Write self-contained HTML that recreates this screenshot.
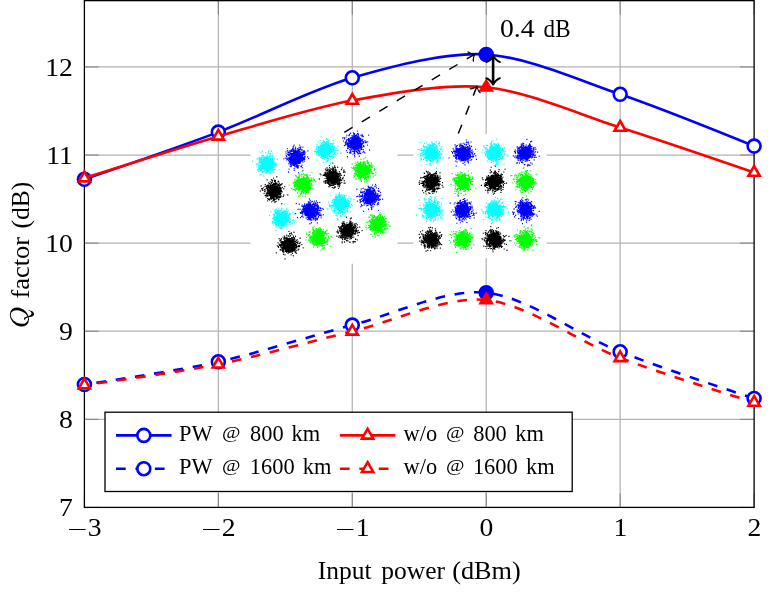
<!DOCTYPE html>
<html><head><meta charset="utf-8"><title>Q factor vs input power</title>
<style>html,body{margin:0;padding:0;background:#fff}svg{display:block}text{font-family:"Liberation Serif",serif;fill:#000}</style></head><body>
<svg width="772" height="611" viewBox="0 0 772 611" style="will-change:transform">
<rect width="772" height="611" fill="#fff"/>
<path d="M218.34 .65V507.4M352.28 .65V507.4M486.22 .65V507.4M620.16 .65V507.4M84.4 419.3H754.1M84.4 331.2H754.1M84.4 243.1H754.1M84.4 155H754.1M84.4 66.95H754.1" stroke="#b4b4b4" stroke-width="1.25" fill="none"/>
<path d="M84.4 507.4v-14.1M84.4 .65v14.1M218.34 507.4v-14.1M218.34 .65v14.1M352.28 507.4v-14.1M352.28 .65v14.1M486.22 507.4v-14.1M486.22 .65v14.1M620.16 507.4v-14.1M620.16 .65v14.1M754.1 507.4v-14.1M754.1 .65v14.1M84.4 507.4h14.1M754.1 507.4h-14.1M84.4 419.3h14.1M754.1 419.3h-14.1M84.4 331.2h14.1M754.1 331.2h-14.1M84.4 243.1h14.1M754.1 243.1h-14.1M84.4 155h14.1M754.1 155h-14.1M84.4 66.95h14.1M754.1 66.95h-14.1" stroke="#707070" stroke-width="0.8" fill="none"/>
<rect x="84.4" y=".65" width="669.7" height="506.75" fill="none" stroke="#000" stroke-width="1.3"/>
<defs>
<g id="p0"><circle r="5.6" stroke="none"/><path d="M6.4 -1.9h1.15m-8 3.6h1.15m-4.5-1.7h1.15m2.1-7.3h1.15m3 9.8h1.15m-7.9-3.2h1.15m3.5-.4h1.15m-4.2-4.9h1.15m2.1 6.5h1.15m-2.3-6.8h1.15m4.6 6.9h1.15m-9.6 7.8h1.15m.2-14.4h1.15m-2.6-3.5h1.15m4.9 7.8h1.15m-8.6 6.2h1.15m-4.9-2.3h1.15m-2.9-4.9h1.15m2.4 8.8h1.15m11.2-7.5h1.15m-5 .7h1.15m-2.3-2.4h1.15m-10.6-4.4h1.15m7.6 16.8h1.15m-1.7-11.5h1.15m5.7 3.2h1.15m-8.7 0h1.15m-2.1-2.3h1.15m-6.5 3.4h1.15m4.4 2.9h1.15m-2.3-12.9h1.15m-0 15h1.15m-2.4-10.8h1.15m-4.5-.7h1.15m2.6-.5h1.15m6.3 3.7h1.15m-6.9 7.2h1.15m4.6-6.9h1.15m-6 4h1.15m-3.3-10.5h1.15m2.3 11.1h1.15m-2.1-7.5h1.15m-3.7 1.3h1.15m-1.6 7.9h1.15m6.5-2.6h1.15m-5.2 0h1.15m-3.5-3.1h1.15m-3.9 .1h1.15m11 3.8h1.15m-11.9-5.6h1.15m-3.4 3.6h1.15m4.1-7.6h1.15m-.8 3.6h1.15m2.8 3.1h1.15m.1-2.6h1.15m-9.5 3.1h1.15m4.4 1.1h1.15m-10.6-1.5h1.15m4-2.6h1.15m-3.9 9.1h1.15m-.1-10.8h1.15m3.1 4h1.15m-4.1 2.7h1.15m1.2-1.7h1.15m.8-.3h1.15m-7.7-2.7h1.15m-.7 2.4h1.15m-3.5-8.5h1.15m3.7 2.1h1.15m-9.6 7h1.15m4 .6h1.15m-.4-6.8h1.15m-4.1 2.6h1.15m2.8-1.3h1.15m-1.1-3h1.15m0-1h1.15m-2 10.3h1.15m4.2 4.2h1.15m-12.1-4h1.15m10.3 1h1.15m-10-2.4h1.15m10.4-7.9h1.15m-6.9 10.8h1.15m-6-2.2h1.15m-2.7-5.8h1.15m-.1 4.2h1.15m1.8 3.2h1.15m-4.6-4.5h1.15m6.7 2.8h1.15m-10.6 .5h1.15m2.3-1.2h1.15m2.1 3.5h1.15m-1.9-12.8h1.15m-7.3 10.7h1.15m3.5 1.7h1.15m1-7.8h1.15m2.2-.3h1.15m-14.1 12h1.15m-.6-6h1.15m10.7-2h1.15m-12.1 3.6h1.15m-.1-9.8h1.15m3.3 8.9h1.15m1.6 .1h1.15m-4.2-4.1h1.15m-4-.6h1.15m6 .1h1.15m-1.7-1.2h1.15m-5.5 2.6h1.15m.5 2.3h1.15m.4 4.7h1.15m-2.8-8.1h1.15m-4.6 1h1.15m6-3.2h1.15m-4.2 6.1h1.15m-1.5-5.2h1.15m3.5 2.6h1.15m-3.6 4.5h1.15m2-6.3h1.15m-8.1 2.6h1.15m.5-9.1h1.15m4.7 8h1.15m-3.4-5h1.15m1.1 2.5h1.15m-6.9-3.4h1.15m-1.4 4.8h1.15m-1.2 2.8h1.15m-.2 2.2h1.15m-3.3-8.1h1.15m.7 6.7h1.15m4.1 .8h1.15m-13.7-1.8h1.15m12.3-1.3h1.15m-9.4 1h1.15m-1.1 1.4h1.15m.9 3.1h1.15m1-8.8h1.15m-.7 6.9h1.15m-6-5.7h1.15m-8.4 5.5h1.15m6-12.5h1.15m-6.1 7.9h1.15m9.4 .5h1.15m-2.4-4.2h1.15m-8.6 8.3h1.15m6.4-3.8h1.15m2.1-3.8h1.15m-8.2 8.2h1.15m8.3-4.3h1.15m-1.9-2.5h1.15m-6.7 1.8h1.15m-9.1 1.8h1.15m9.3-1.7h1.15m-5.3 6.4h1.15m-6.1-12h1.15m1.4 1.2h1.15m7.1 6.3h1.15m-10.3-3.9h1.15m14.3 .1h1.15m-16.2 3.8h1.15m4.7-.4h1.15m-7.6-5.7h1.15m5.1 4.6h1.15m-10.4 5.1h1.15m8.8-5.9h1.15m-5.4 2h1.15m-2.9-6.6h1.15m3-.4h1.15m-.9 0h1.15m-3.1 5.4h1.15m6.6-3.8h1.15m-14.4 1.7h1.15m.1 .3h1.15m5.2 5.6h1.15m4-6.3h1.15m2.9 11.3h1.15m-12.9-17.7h1.15m-.7 9.8h1.15m-10.3 0h1.15m7.5-3.6h1.15m2.3 7.5h1.15m-5.7-3.2h1.15m-1.9-4.3h1.15m1.9 5.5h1.15m-3.8-11.4h1.15m3.6 2.6h1.15m-3.1 14h1.15m-1.7-12.3h1.15m-7.1 9.8h1.15m4.8-2.7h1.15m2.8-2.4h1.15m-6.3-3.7h1.15m-12.7-2.4h1.15m11.4 5.6h1.15m.8 .2h1.15m-2.2 3.8h1.15m-5.4-4.5h1.15m-4.2 5.2h1.15m5.7-2h1.15m5.1 2.5h1.15m-7.8-1.2h1.15m-6.9-1.5h1.15m5.4-8.5h1.15m3.8 3.8h1.15m-3.8 1.2h1.15m.1 7.1h1.15m-8.7-11.8h1.15m1.7 9.9h1.15m-2.1-6h1.15m2.4-9h1.15m-5.9 5.8h1.15m2.8 2.6h1.15m-7 1.6h1.15m-2.6 1.4h1.15m2.1-1.5h1.15m-1.3 5.4h1.15m1.4-1.6h1.15m1.3-5.5h1.15m-.8 4.7h1.15m-2.2-3.1h1.15m-4.2 5h1.15m9.6-6.7h1.15m-8 1.9h1.15m-.1 3.3h1.15m0-13.4h1.15m-8 7.5h1.15m.9 1.1h1.15m-3.4 5.8h1.15m9.4-14.5h1.15m-10.3 13h1.15m.1-2.7h1.15m-6.7-2.5h1.15m7.4 8.4h1.15m-3.7-8h1.15m-1.2 2.5h1.15m.7 1.5h1.15m-6 .3h1.15m-3.4 2.6h1.15m8.6-8.3h1.15m-4.3 .8h1.15m1.6 7.9h1.15m-6.6 .3h1.15m-2-6.8h1.15m-1.7 2.1h1.15m-.1 1.2h1.15m-2.4 2.6h1.15m5.7-5.3h1.15m-11.3 5.1h1.15m9.5-3.7h1.15m-11.3 1.8h1.15m10.6-8.9h1.15m-5.5 6.5h1.15m-6.7 3.4h1.15m-3-.9h1.15m9.7-.5h1.15m-10.3-8.1h1.15m-2.8-.2h1.15m10.8 6.6h1.15m-12.1-4.4h1.15m-1.3 4h1.15m-2 8.4h1.15m1.1-10.2h1.15m3.2 9.2h1.15m3.1-8h1.15m-5.6 2.6h1.15m-0 .5h1.15m-7.3-6.3h1.15m3.5 .3h1.15m3.8 5.1h1.15m-11.1-1.5h1.15m1 .8h1.15m4.9-5.5h1.15m-12.8 7.4h1.15m5.8-.7h1.15m1.5-1.5h1.15m.3-2.9h1.15m-4.2 .3h1.15m-6.1 6h1.15m5.9-10.7h1.15m-8.2 9.3h1.15m8-4h1.15m-6.4-3.1h1.15m10 7.9h1.15m-7.8 .7h1.15m-1-.2h1.15m-6.4 .6h1.15m.6 2.3h1.15m-4.6-7.6h1.15m4.7 7.5h1.15m-3.3-8.3h1.15m-2.3 .9h1.15m7.2 5.8h1.15m-3.7-2.4h1.15m-8.7 3.6h1.15m8-2.5h1.15m-8.1 2.1h1.15m-2.6-1.3h1.15m-2.6-7.2h1.15m4.2 5.4h1.15m4.4-2.6h1.15m-9-3.5h1.15m-9-2.7h1.15m8.5 2.5h1.15m1.7 10.8h1.15m-7.1 1h1.15m1-2.2h1.15m-3-.7h1.15m-4.1-1.4h1.15m.8-3.1h1.15m3.4 1.2h1.15m-4.1 2.3h1.15m2.5-8.7h1.15m-2.2 8.5h1.15m-6.5-1.2h1.15m-3.6 4.4h1.15m3.4-6.3h1.15m4.8-.3h1.15m-3.6-3.7h1.15m-6-1.5h1.15m.3 10.1h1.15m.7-.6h1.15m-6.4-7.4h1.15m1.2 6.1h1.15m2.3-2.5h1.15m-.1-.5h1.15m-3.8 6h1.15m-3.5-4.6h1.15m8-.4h1.15m-4.9-2.9h1.15m4-6.8h1.15m-14 4.9h1.15m10.3 5.9h1.15m-9-6.8h1.15m1.5 5.8h1.15m-5.6-6.7h1.15m-2.8 7.1h1.15m4.7-.6h1.15m-3.1-7.6h1.15m-.3 3h1.15m-1.2 6.2h1.15m-4.1-6.1h1.15m5.8 5.7h1.15m-7.9-14h1.15m1.3 15.1h1.15m3.7-5.4h1.15m-8.5 1h1.15m5-3.1h1.15m-5.1 1.1h1.15m.4-2.7h1.15m-.7 4.4h1.15m-3.6 4.3h1.15m4.5-9.2h1.15m-1.7 9.3h1.15m-6.5 3.5h1.15m.8-.4h1.15m-4.4-9h1.15m6.4 12.6h1.15m-3.6-5.3h1.15m-5.7-9.2h1.15m-.2 11.7h1.15m-7.9-8.3h1.15m-1.4 2.5h1.15m10.5-5.6h1.15m-6.5 10.7h1.15m.2-10.6h1.15m-6.3-3.3h1.15m7.5 5.3h1.15m0 6.7h1.15m-8.2-5.8h1.15m4.8 2.8h1.15m-3.3-7.4h1.15m1.5 3.2h1.15m-14.3 1h1.15m10 11.3h1.15m-4.4-14.2h1.15m9.2 6.2h1.15m-11.1-5.2h1.15m-4.2 10.6h1.15m1.9-8.3h1.15m-2.1 8.7h1.15m-1.5-3.9h1.15m2.4-1.6h1.15m-5.9 1.7h1.15m9.2-2.9h1.15m-11.7-5.2h1.15m3.5 4.3h1.15m-2.4 1.1h1.15m-6.8 3.2h1.15m5.9-3.5h1.15m-1.2 4.1h1.15m-1.9-7.3h1.15m3.5 1.7h1.15m-9-4.7h1.15m1.9 2.2h1.15m-3.3 6.2h1.15m1.1 2.3h1.15m-0-5.9h1.15m-3.8-.4h1.15m2.9 2.2h1.15m-5.5 3.4h1.15m.9-5.4h1.15m-7.8 3.7h1.15m6.1-1.6h1.15m-3.9-3.7h1.15m-.3 4.5h1.15m-.8-1.6h1.15m-2.5 2h1.15m1.7-4.5h1.15m1.1 6.4h1.15m-.9-3.8h1.15m-5.4-4.3h1.15m2.8-4.1h1.15m-5.9 7.5h1.15m4 1.4h1.15m-8.7-5.9h1.15m-.2 6.3h1.15m2.2-1.2h1.15m-4.3-.1h1.15m5.9-3.7h1.15m-5.2 11.3h1.15m1-8.6h1.15m-.7-1.2h1.15m-3.8 9.5h1.15m6.6-13.5h1.15m-6.1 15.2h1.15m-6.3-7h1.15m7.4-3.1h1.15m-5.5 1.8h1.15m-11.1 1.6h1.15m6.1 2.5h1.15m8.3-1.1h1.15m-11.3-.9h1.15m1.2 2.3h1.15m-8-9h1.15m-3.7 7.3h1.15m7.3-5.2h1.15m-4.1 .3h1.15m-2 1.1h1.15m.7 7.1h1.15m2.2-9.2h1.15m-4.9 8.4h1.15m3.2-3.8h1.15m-.1 5.4h1.15m-9.2-9.7h1.15m-3.3 5.2h1.15m4.5-4.9h1.15m-2.7 5.7h1.15m1.4-5.1h1.15m4.6-2.1h1.15m-11.6 15.1h1.15m2.6-13.1h1.15m-2.6 1.7h1.15m5.1 3.7h1.15m-2.2-4.3h1.15m-9.6 2.4h1.15m11.4 3.2h1.15m-8.2-1.1h1.15m-2-3.5h1.15m-4.7-1.1h1.15m4.6 .6h1.15m1.4 8.5h1.15m1.2-9.1h1.15m-9.7-1.4h1.15m-2.2 2.8h1.15m4.7 .7h1.15m-2.1-.1h1.15m-2.5-3.8h1.15m6.5 7.4h1.15m-12-8.1h1.15m.1 3.9h1.15m6.6 4.1h1.15m-2 .3h1.15m-1-1.4h1.15m-3.8-3.6h1.15m-10.3-0h1.15m13.6-1.7h1.15m-11.3 6.4h1.15m1.8-6.2h1.15m5 4.6h1.15m-4.5-4.9h1.15m-2.2 3.9h1.15m-0 3.2h1.15m.3-4.1h1.15m-3-5.5h1.15m-1.3 7.6h1.15m-5.4-6h1.15m.2-1.8h1.15m.5 6.2h1.15m-6.5-1h1.15m7.2 4.2h1.15m-1.4-5h1.15m-6.7-1h1.15m2.7 11.4h1.15m2.2-3.2h1.15m-1.4-13.3h1.15m-7.6 4.9h1.15m4.9 8.8h1.15m-9.1-6.8h1.15m3.9-2.2h1.15m-6-.8h1.15m5.1-1h1.15m-.1 4.2h1.15m-2.8 6h1.15m-7-9.8h1.15m3.4-.9h1.15m-6 3.8h1.15m2.6-4.7h1.15m-3.4 7.6h1.15m6-10.5h1.15m-1.3 11.8h1.15m-11.1-9.8h1.15m5.1 4.4h1.15m-2.3 5.3h1.15m-3.3-2.9h1.15m2.4 3h1.15m4.2 3.3h1.15m-7.5-8h1.15m7.7 3.6h1.15m-9.2-7.1h1.15m.3 1.3h1.15m-6.3-2.3h1.15m-1.4 5.8h1.15m-5.2-4h1.15m4.8-1.5h1.15m-6 1.8h1.15m-1.8 5.9h1.15m.5 .7h1.15m6.8-8.1h1.15m-4.8 2.9h1.15m-6 .6h1.15m2.5 4.3h1.15m4.1-7.4h1.15m-7.1 6.7h1.15m5.4-12.3h1.15m-.7 9.4h1.15m-.1-1.1h1.15m-10.9 2h1.15m7.1-.1h1.15m-15.7 2.7h1.15m1.9-6.9h1.15m.7-3.5h1.15m-1.5 3.5h1.15m1.5 3.9h1.15m-0-5.9h1.15m-.5 10.1h1.15m3.5-3.4h1.15m-2.5 3.1h1.15m1.9 3.3h1.15m-8.1-8.1h1.15m6.3 7.6h1.15m-.9-16.2h1.15m-8.4-3.8h1.15m2.8 13.7h1.15m-4-.8h1.15m4-.6h1.15m-2.2 3.5h1.15m-4-.4h1.15m-2.2-6.4h1.15m1.4 7.5h1.15m-4.7 0h1.15m3.2-8.3h1.15m-5.5 3.5h1.15m-4.3 3.1h1.15m-.9-3.1h1.15m3.3 3.3h1.15m-.8 7.8h1.15m-4.6-8.3h1.15m-4 1h1.15m8.6 3h1.15m-8.6-6.2h1.15m6.8 .8h1.15m-2.4-3.6h1.15m.6 8.3h1.15m-5-7.6h1.15m-3.7 3.9h1.15m.6-1h1.15m-3.2 1.2h1.15m5.6-9.1h1.15m-12.7 1.9h1.15m1.7-.8h1.15m4 7.6h1.15m-4.5-3.2h1.15m.6 3.5h1.15m-.5-3.7h1.15m.2-3.1h1.15m1.4-6.7h1.15m-8.8 7.8h1.15m4.6-1.2h1.15m3.1-.2h1.15m-.3 8.3h1.15m-9.4-.1h1.15m7.8 1.9h1.15m-19.5 1.3h1.15m9-11.7h1.15m1.1 1.7h1.15m-3.6 6h1.15m-4.6 1.7h1.15m-2.7-1.9h1.15m.9-1.6h1.15m9.1 1.3h1.15m-13.7-1h1.15m.2 .6h1.15m2.7 .3h1.15m-1.5-2.7h1.15m.4 6.7h1.15m-5.6-4.6h1.15m1.7 5.4h1.15m3.1-8.2h1.15m-5.4-3.2h1.15m-5.4 6.3h1.15m5.4 3.9h1.15m-5-9.6h1.15m1.8 4.9h1.15m-1.1 1.4h1.15m.1 2h1.15m-.6-4.6h1.15m-.5-.2h1.15m-5 9.8h1.15m0-12.5h1.15m3.6 9h1.15m-2.6-3.4h1.15m-4.5-1.8h1.15m-5.5 7.3h1.15m.2-8.3h1.15m-1.4 9.7h1.15m4.3-9.2h1.15m-5 3.6h1.15m2.7-8.8h1.15m-1 5.8h1.15m-7.8-.7h1.15m5 8.9h1.15m-3.8-5h1.15m-5.2-.3h1.15m5.7-8.2h1.15m-6.7 9.5h1.15m-6.3-4.9h1.15m8.6-5.4h1.15m-5.3 7.2h1.15m4.2-5.5h1.15m-.2 6.6h1.15" stroke-width="1.15" fill="none"/></g>
<g id="p1"><circle r="5.6" stroke="none"/><path d="M4.4 4.8h1.15m-4.7-2.8h1.15m-9.8-7.6h1.15m1.9 4.2h1.15m6.9-6h1.15m-6.4 1.9h1.15m-6.2 11.6h1.15m5.7 .7h1.15m3.3-10.6h1.15m-13.7 12.4h1.15m4.8-13.3h1.15m3.4 5.3h1.15m-6.8-2h1.15m2.3 1.7h1.15m1.4-1.8h1.15m-5.7 4h1.15m1.5 2h1.15m-3.5-4.9h1.15m-4.9 6.6h1.15m-2.1-5.4h1.15m.9 .6h1.15m5.7-8.2h1.15m-5.2-.5h1.15m5.6 5.5h1.15m-13.5-1.1h1.15m10.8 9.1h1.15m-1.3-9.5h1.15m-7.1 10.1h1.15m-3.5-8.2h1.15m-2.1-3.4h1.15m7.8 7.4h1.15m-4.3-.2h1.15m1.3 3.9h1.15m-5.5-7.7h1.15m-5.3 5.9h1.15m.9-10.7h1.15m-.1 6.3h1.15m3.4 4.1h1.15m-7.6-7.5h1.15m.5-1.7h1.15m-.2 6.9h1.15m-.5-8.6h1.15m-6.3 12h1.15m-.4-2.2h1.15m5.6-4.4h1.15m-7.9 2.2h1.15m-.7-1.6h1.15m3-2.3h1.15m-2.5 1.7h1.15m-5.4 .5h1.15m1.4-6.8h1.15m.1 6.4h1.15m-2.3-7.4h1.15m4.6 11.4h1.15m-1.7-1.5h1.15m-9-.8h1.15m.2 8.6h1.15m.5-6.3h1.15m-5.4-7.7h1.15m3 7.8h1.15m3.4-1.7h1.15m-11.1 3.5h1.15m2.7 2h1.15m10.4-3.3h1.15m-4.8-8.6h1.15m5.5 6.1h1.15m-7.7-4.5h1.15m-5.6-1.3h1.15m-1.9 5h1.15m.9 5.7h1.15m-.2-4.8h1.15m-3 7.3h1.15m-3.7-3.4h1.15m-6.9-8.5h1.15m8.7 2.9h1.15m9.7 11.4h1.15m-20-15.1h1.15m4.6 11.6h1.15m4.1-5.8h1.15m-11.7-4.9h1.15m-6.4-2.9h1.15m11.8 9.7h1.15m-8.4-2.8h1.15m11 .2h1.15m-9.1 1.9h1.15m2.3-2.2h1.15m-5.6-2.1h1.15m1.5-.6h1.15m4 6h1.15m-2.2 4.7h1.15m.9-2.5h1.15m-6.2-6.7h1.15m6.9-2h1.15m-13.3-.8h1.15m2.3 5.4h1.15m2.3-2.7h1.15m-12.7 2.2h1.15m10.1-1.2h1.15m-5.7 2.3h1.15m5.3-2.7h1.15m-13-2h1.15m4.1-5.2h1.15m2.7 4.3h1.15m-2.2 4h1.15m-4.6 6h1.15m-2.1-9.6h1.15m2.3 6.3h1.15m-2.3-7.6h1.15m1.7 6.6h1.15m4.6-3.4h1.15m-8.9-1.4h1.15m-8.2 2.6h1.15m8.6-4.5h1.15m-7.5-.7h1.15m7.2 2.3h1.15m-4.3-1h1.15m-3.3 1h1.15m-11.2 2.9h1.15m10.8-8.9h1.15m-4 6.8h1.15m-4.9 .8h1.15m-4.8 2h1.15m11.8-6.2h1.15m-6.3 11.1h1.15m-.4-8.1h1.15m-5.4 2.9h1.15m2.1 1.9h1.15m-6.9 1.9h1.15m3.5-1.8h1.15m-2.5-8.1h1.15m-.5 1.4h1.15m-.4 6.7h1.15m4.9-1.9h1.15m-7.9-2.7h1.15m3.6 6.6h1.15m-5-5.2h1.15m-2.9 1.4h1.15m5.9-13h1.15m-4 9.8h1.15m-11.9 3.6h1.15m8.2 .2h1.15m-6.5 7.4h1.15m5-10.3h1.15m4.7 4.1h1.15m-4 2.1h1.15m-13.2 2.1h1.15m6-5.7h1.15m4.1-4.2h1.15m-3.7 6.2h1.15m-2.6-1.1h1.15m-7.6-7h1.15m.7 6.4h1.15m19.2-.4h1.15m-17.3-1.4h1.15m3.5 3.3h1.15m-10 1.2h1.15m3.5-.8h1.15m-9.3-9.9h1.15m9.6-1h1.15m-2 8.9h1.15m-2.2 .1h1.15m-.6 .4h1.15m-4-2h1.15m12.7 4.8h1.15m-10.7-3.1h1.15m-6.7-.7h1.15m.8 3h1.15m-3.9-13.7h1.15m.3 12.7h1.15m11.4 1.4h1.15m-15.4-5.2h1.15m-1.1 .1h1.15m-.9-6h1.15m4.4 7.6h1.15m-3.7 .6h1.15m8-.9h1.15m-11.1 3.1h1.15m-6.4-.5h1.15m2.4-6.5h1.15m2.5 10.3h1.15m-4.7-2.9h1.15m3.5-9.8h1.15m1.1 2.4h1.15m-11 .1h1.15m1.9 5.8h1.15m-1.2 3.7h1.15m2.8-9.2h1.15m-5.5 3.9h1.15m-6.1-9.9h1.15m3.6 11.6h1.15m3.3-2.5h1.15m-2.8-9.1h1.15m-1.6 1.6h1.15m3.6 7.4h1.15m-4.9 1.7h1.15m.5-.7h1.15m-1-3.4h1.15m-8.2 3.8h1.15m10.4 2.8h1.15m-8-1.7h1.15m-2.1-.9h1.15m-1.8-1h1.15m9.6 2.6h1.15m-3.2-6.4h1.15m-10.2 3h1.15m4-.7h1.15m.7-1.4h1.15m.3 6.3h1.15m-11.4-1.6h1.15m2.5 1.8h1.15m-2.4-2.9h1.15m3.3-12.7h1.15m-11.2 11.9h1.15m6.2 3.7h1.15m.3-9.5h1.15m-.8 2.2h1.15m-3.4 1h1.15m1.2-3.8h1.15m-7.2-3.3h1.15m12.4 5.1h1.15m-13.7-.7h1.15m-.2 3h1.15m4.1 2.5h1.15m-2.4-3.2h1.15m-2.8 7.6h1.15m-.9-3.8h1.15m-9.5 .8h1.15m8.3 3.2h1.15m-13.6-5.2h1.15m9.7 .2h1.15m-3.2 .5h1.15m4.3-.7h1.15m-5.3-1.1h1.15m-1.5 1.1h1.15m-2.5-8.4h1.15m7.4 .9h1.15m-7.3 1.9h1.15m-1.8 1.4h1.15m-.2 .5h1.15m-6.3 4.8h1.15m9.7 .1h1.15m-6.2-5.8h1.15m-2 6.2h1.15m-3.5 1.9h1.15m1.4-2.3h1.15m-3-3.5h1.15m1.8 3.6h1.15m-.7-5.8h1.15m-5.6 4.1h1.15m-5.8 4.4h1.15m7.8-4.1h1.15m-5.4 3.2h1.15m.7 4.5h1.15m1.6-14.1h1.15m.2 4h1.15m-6.3 1.2h1.15m.5 2h1.15m2.5 .9h1.15m-7.3-7.5h1.15m-1.5 7.1h1.15m5.8 5.9h1.15m-10.3-7.1h1.15m3.4-2h1.15m.4 .6h1.15m-2.8-1.6h1.15m1.6 7h1.15m4-6.5h1.15m-12.3 1.1h1.15m-.3 5.3h1.15m-1.1-3.9h1.15m-3.3-1.8h1.15m5.2 7.8h1.15m-4.8-4.8h1.15m-6.9-6.6h1.15m4.1 3h1.15m4 4.7h1.15m-9.6-.5h1.15m.9 5.5h1.15m4.8-7h1.15m-3.2-.8h1.15m-.4-2.7h1.15m1.9 4h1.15m-1.1-1.4h1.15m-1.5-2.9h1.15m10.9 .2h1.15m-17.8 6.9h1.15m5.8-7.3h1.15m-13.2-2.5h1.15m1.6 2.6h1.15m2.3 7.5h1.15m4-6.8h1.15m-3.4 6.2h1.15m2.5-4.3h1.15m-10.1 3.7h1.15m8.2-5.3h1.15m.7 9.4h1.15m-10.3-13.7h1.15m-2.6 5.1h1.15m3.6-5.5h1.15m6.7 16.6h1.15m-14.3-17.4h1.15m1.2 9.5h1.15m5.1 1.2h1.15m-7.5-11.2h1.15m1.8 11.7h1.15m-4.6-2.4h1.15m1-2.1h1.15m-6.8 2.4h1.15m-2.3 4.4h1.15m1-3.8h1.15m-.4-.4h1.15m1 .6h1.15m-3.6-9h1.15m1 5.3h1.15m-6.2-1.4h1.15m-1.9 3.4h1.15m4.3-.4h1.15m11.2 .5h1.15m-10.4 2h1.15m-3.3-5.1h1.15m3.1 6.8h1.15m-16.9-5h1.15m9.5-1.7h1.15m5.4 .2h1.15m-2.7-.1h1.15m-6.4 5.3h1.15m-2.6-3.7h1.15m-2.6-3h1.15m6.4 6.1h1.15m-8.9-7.3h1.15m14.2 2.2h1.15m-15.4 4.8h1.15m-.7-3.6h1.15m5.8 5.6h1.15m-5.7 1.4h1.15m-1-6.5h1.15m-.5-.3h1.15m1 2.4h1.15m-6.5-.4h1.15m-.2-3.1h1.15m.5 6.6h1.15m.6 1h1.15m4.2-5.4h1.15m-10.2-3.1h1.15m2.5 6.9h1.15m4.3-9.1h1.15m-3.9 9.9h1.15m5.2-3.6h1.15m-11.4-7.1h1.15m-4.3 1.7h1.15m-2.1 .9h1.15m-3.3 3.3h1.15m6.8 3.6h1.15m-3.1 1.2h1.15m3.7-10.7h1.15m-6.7 1.1h1.15m-4.1 6h1.15m2.4 5.3h1.15m7.8-4.3h1.15m-10.4-2.4h1.15m-.4 3h1.15m-4.1 .1h1.15m.9 1.9h1.15m5.5 2.9h1.15m-7.5-12.8h1.15m-7.5 4.3h1.15m0-5.6h1.15m3.3 2.8h1.15m3.2 12.1h1.15m-5-6.7h1.15m-6.7-.6h1.15m2.5-5.3h1.15m-6 11.2h1.15m-.1-11.6h1.15m5.6 6.2h1.15m-0-.7h1.15m-6.1 2.7h1.15m3.4-9.2h1.15m4.7 4.6h1.15m-3.9-4.6h1.15m-10 3.7h1.15m.9 6.5h1.15m-5-3.5h1.15m1.4 1.5h1.15m3.9-4.4h1.15m7.2 2.1h1.15m-5.8-5.4h1.15m-6.2 5.9h1.15m-0-1.8h1.15m-5.2-11.4h1.15m-.1 9.1h1.15m.2 7.3h1.15m9.1-1.3h1.15m-6.1 .4h1.15m-2.4-.2h1.15m-5.2-3.7h1.15m1.3 8.8h1.15m.7-.8h1.15m-9.7-5.6h1.15m5.9 1.1h1.15m-8.5-9.8h1.15m-4.3 6h1.15m17.4 2.6h1.15m-15.9 .5h1.15m2.6-.7h1.15m-1.7-6.1h1.15m-1.5 8.3h1.15m2.3 2.2h1.15m-6.8-.7h1.15m3.5-3.6h1.15m3.8-1.3h1.15m-5.2 3.2h1.15m.5 .7h1.15m1.5-1.1h1.15m-8.3 8h1.15m.6-8.6h1.15m-4.2-10.6h1.15m-1.2 9.3h1.15m4.3-.1h1.15m-.1 4h1.15m-.3-4.1h1.15m-4.9-.9h1.15m-5.1 6.8h1.15m-2.7-6.2h1.15m4.9-8.6h1.15m1 7.4h1.15m-3.3 .1h1.15m-8.4 2.2h1.15m5.6 3.3h1.15m.4-11.1h1.15m1.5 10.3h1.15m-2.6-1.3h1.15m-7.2 .2h1.15m.2 9.7h1.15m-.6-16.5h1.15m-1.6 10.6h1.15m-2.1-16.2h1.15m7.4 11.5h1.15m-9.4 1.6h1.15m-2.9-7.8h1.15m6.7 2.7h1.15m-2.9 2.2h1.15m.1 .4h1.15m-13.1 2.4h1.15m5.3 .8h1.15m1.3 2.3h1.15m-2.9-14.5h1.15m-1.2 10.7h1.15m-1.2-4.1h1.15m6.4 1.3h1.15m-2.9 1.3h1.15m-11.6-4.5h1.15m3.6 5.1h1.15m-3.2-7.1h1.15m-2 3.7h1.15m-.6-.3h1.15m10.2 3.6h1.15m-12.3-1.2h1.15m8.8 2.7h1.15m-8.1-8.3h1.15m-7.8 4.2h1.15m5.5-5.3h1.15m-6.3 6.6h1.15m-4.8-7h1.15m7.9 9.5h1.15m.3 1.8h1.15m4.1-.4h1.15m-8.8 5.1h1.15m7-4.9h1.15m-11.5-2.3h1.15m-6.5-3h1.15m-2.8-.4h1.15m13.5 1.9h1.15m1.3-.1h1.15m-7.5-1.3h1.15m.7 1.2h1.15m1.6 6.8h1.15m-4.6-11.4h1.15m-.3 10.4h1.15m-.8-4.5h1.15m.1 4.3h1.15m-15.9 .8h1.15m12.9-4.3h1.15m-6.7-1h1.15m3.7-7.1h1.15m-.6 6.4h1.15m1.9 2.6h1.15m-8-2.6h1.15m2.2 .4h1.15m-1.5-3.6h1.15m-8.6 .6h1.15m-1.9-.9h1.15m6.2-3.5h1.15m-7.7 9.8h1.15m1.8-3.1h1.15m-4.1-4.3h1.15m2.7 11.1h1.15m2-13.7h1.15m-1.2 10.8h1.15m-.1-8.9h1.15m-4.3 13.9h1.15m-4.8-7.5h1.15m-.3-6.6h1.15m.1 9.5h1.15m5.5-7.9h1.15m-7.9-0h1.15m-7.8 6.2h1.15m13.9 3.7h1.15m-9.6-.7h1.15m5.4-6.9h1.15m-5.7-.2h1.15m-.2 9.1h1.15m-5.9-12.5h1.15m6.3 5.2h1.15m-12.6-4.4h1.15m3.2 1.7h1.15m3.7 6.6h1.15m-3.2-3.5h1.15m-3.6 3.6h1.15m7.6-5.3h1.15m-9.8 9.7h1.15m5.7-12.3h1.15m-12 2.5h1.15m10.9-1h1.15m-7.2 .2h1.15m2.6 7.8h1.15m-9.1-7h1.15m3.3-1.3h1.15m-5.3 6h1.15m4.5-.5h1.15m4.5-4.5h1.15m-5.2-.1h1.15m-3.8 3h1.15m-1.4-7.6h1.15m5.7 6.9h1.15m-12.1-9.8h1.15m3.5 11.9h1.15m3.1 1.9h1.15m-6.9-2h1.15m-6-2h1.15m9.1-3.2h1.15m-5.6 3h1.15m.1 5.8h1.15m-6.2-.7h1.15m-1.9-8.3h1.15m.8 2.4h1.15m0 2.4h1.15m1 7.1h1.15m.4-10.2h1.15m-1.2 3.6h1.15m-3.5-7.2h1.15m-3.7 5.4h1.15m5.7 1.3h1.15m-5 .3h1.15m-2.8-1.2h1.15m6.8 3.5h1.15m-1.5-6.2h1.15m-5.9-2.6h1.15m1.8 2.4h1.15m-10.4-.3h1.15m5.3-7.1h1.15m-8 13.3h1.15m5.1-4.3h1.15m-8.3 6.7h1.15m9.8-3.6h1.15m-10-.5h1.15m8.2-3.8h1.15m-6.9-.6h1.15m2.4 1h1.15m-5-5.1h1.15m-6.7 9.9h1.15m12.3-.3h1.15m-1.8-5.8h1.15m-7.3 3.8h1.15m-1.6 5.4h1.15m-6-9.3h1.15m2.9-.6h1.15m3.8-5.4h1.15m.1 12.1h1.15m-4.6 2h1.15m7.3-5h1.15m-7.9 .9h1.15m-2-3.7h1.15m-6.3 4.6h1.15m-.3 1.3h1.15m4.4-5.7h1.15m-3 2.2h1.15m-3.2 4.4h1.15m-.4-3.7h1.15m-9.4 1.5h1.15m1-4.1h1.15m11.5 9h1.15m-9.5-12.6h1.15m2.2 3.6h1.15m-1.4-4h1.15m2 12h1.15m-11.7-9.6h1.15m1.9 6.3h1.15m-6.4-2.2h1.15m6.1-4.1h1.15m2.7-4.8h1.15m-9.8 4.8h1.15m7.5 1.8h1.15m-7.5 3.4h1.15m.3-4.6h1.15m-.4 4.1h1.15m11.3-5.9h1.15m-11.2 3.8h1.15m-3.4 7h1.15m3.2-3.5h1.15m-6.3-6.3h1.15m2 2.3h1.15m-4.7 4h1.15m-3.8-5.8h1.15m7.1 2.7h1.15m-1.6-3.2h1.15m-1 .6h1.15m1.5 6.2h1.15m-4.8 3.1h1.15m-1.6-8.9h1.15m3.8 4h1.15m-2.5-.8h1.15m-1.4-4.2h1.15m-11.2-2.2h1.15m7.3-2.3h1.15m-11.7 2.2h1.15m7.2 7.7h1.15m-5.5 1.5h1.15m3.6 1.8h1.15m1.4-7.9h1.15m-4.2 2.2h1.15m-.1 1.5h1.15m-2.9 2.1h1.15m-1 .1h1.15m-1.3-3.7h1.15m2.6 4.6h1.15m.1-1.3h1.15m-7.1-1.8h1.15m.4-8.1h1.15m-6.5 13.6h1.15" stroke-width="1.15" fill="none"/></g>
<g id="p2"><circle r="5.6" stroke="none"/><path d="M-.1 -11.1h1.15m-1.4 12.4h1.15m-5.8 8.8h1.15m8.6-6.1h1.15m-6.6-1.3h1.15m3.1-.1h1.15m-7.4-1.1h1.15m2.2 .4h1.15m-6-.2h1.15m3.1-.1h1.15m-.3-6.9h1.15m1.5 9h1.15m-10.2-3.5h1.15m.9-1.5h1.15m6.5 4.1h1.15m2.8-1.9h1.15m-13.9 .1h1.15m-6.7 6.9h1.15m10-5.6h1.15m-1.6-5.3h1.15m-2.3 .2h1.15m-2.8 4.6h1.15m-4 5.4h1.15m-.7-3.4h1.15m.6-8.6h1.15m3.1 5.8h1.15m-3.7-1h1.15m-2.9 2h1.15m-.5-1.7h1.15m5.4-5.6h1.15m-8.2 2.7h1.15m-2.1-2.8h1.15m1 6.1h1.15m-.5-7.2h1.15m2.1 9.5h1.15m-3.7-7.1h1.15m-5 12.2h1.15m9.5-6.1h1.15m-12 3.2h1.15m3.3 1.7h1.15m-4.2-4.9h1.15m.3 1.1h1.15m-2.9 .7h1.15m-.1-7.5h1.15m2.8 4.7h1.15m-12.2-1.2h1.15m8 1h1.15m6.8-3.4h1.15m-9.6-4.4h1.15m-7.1 4.6h1.15m4.3 1.6h1.15m2 3.8h1.15m.4-3.7h1.15m-3.3-2.3h1.15m-1.7 5h1.15m-4.7-15.3h1.15m-1.8 23.9h1.15m1.2-13.2h1.15m-.3 7.2h1.15m-.3-5.5h1.15m-7.8-.3h1.15m-.8 2.7h1.15m10.1 2.9h1.15m-9.9-8.5h1.15m-4.5 5.9h1.15m7 1.5h1.15m-2.1-8.3h1.15m-10.5 9.6h1.15m3.3 3.2h1.15m-6.4-12.4h1.15m3.7 5.6h1.15m5.5-3.3h1.15m-1.5-3.2h1.15m-5.7 .4h1.15m-1.4 2.4h1.15m2.5 16.9h1.15m-8.1-15.1h1.15m7.3 1.1h1.15m1.9-4.5h1.15m-3.8 1h1.15m-1 3.9h1.15m-3.5-3.1h1.15m-9.8-2.2h1.15m9.4 3.5h1.15m-1-4.4h1.15m-1.6 9.7h1.15m-12.9-2.9h1.15m16-4.4h1.15m-5 3.3h1.15m-1.8-1.8h1.15m-7.9-.1h1.15m.6-.7h1.15m-3.3 7h1.15m.1-9.6h1.15m-2.6 7.1h1.15m-6.5 0h1.15m11 3.2h1.15m-5.9-8.7h1.15m1.4 4h1.15m3.6-.3h1.15m-8.4-5.8h1.15m-.2 5.9h1.15m4.6 .1h1.15m-.5 4.7h1.15m-9.9-9.9h1.15m-.6 3.8h1.15m-1.8 3.9h1.15m5 2.1h1.15m-2.8-6.8h1.15m-.6-2h1.15m-2.3 .6h1.15m3.1-7.9h1.15m-2.5 14.8h1.15m-4.8-2.3h1.15m-.1 4h1.15m4.8-5.4h1.15m-1.2-2.7h1.15m-6.2 4.5h1.15m-8.1-.4h1.15m1.3 1.9h1.15m-2.1-10.7h1.15m-2.8 7.5h1.15m5.5 1.3h1.15m-5.6 1.9h1.15m-.3-4.2h1.15m5.2 .2h1.15m-13 3.7h1.15m6.7-4.6h1.15m4.2-1h1.15m-3.8 3.2h1.15m6.9-8.1h1.15m-11.1 8.9h1.15m2.6-3.2h1.15m-8.4 7.6h1.15m-.2-4.6h1.15m.4 .4h1.15m-6.6-3.9h1.15m4.2 2.7h1.15m3.7 1.7h1.15m-3.3-2.3h1.15m1.6-2.3h1.15m-6.7-3.7h1.15m-5.1 9.7h1.15m3-11.2h1.15m-1.2 6.7h1.15m-5.7 2.4h1.15m2.5-1.4h1.15m3.9-2.6h1.15m-.6 1.5h1.15m-6.7 6.4h1.15m1.5-7h1.15m-3.2 2.6h1.15m-6.7 1.8h1.15m4.8-8.1h1.15m-5 9h1.15m-2.5 5.3h1.15m-.3-8.1h1.15m-7.4-1.1h1.15m7.3 2.2h1.15m1.8-3.4h1.15m7 4.6h1.15m-13.2-1.8h1.15m-10-3.8h1.15m15.9 .1h1.15m-5.7-2.5h1.15m1.5 5.2h1.15m-4.4 3.4h1.15m5.6-.6h1.15m-15.1-1.6h1.15m7.1-6.4h1.15m-9 3h1.15m4.3 1.4h1.15m-2.9 .9h1.15m3.1-1.8h1.15m-.8-1.3h1.15m-9.3 2.4h1.15m9 11.2h1.15m-13.6-13.2h1.15m4 3.2h1.15m-1.1-.6h1.15m6.6-3.7h1.15m-5.6 9.9h1.15m2.9-13.5h1.15m3.7 3.9h1.15m-8.4 1.2h1.15m-4.3-1.2h1.15m3.3-.3h1.15m-9 .8h1.15m4.1-5.9h1.15m2.2 5.3h1.15m-1.5 8.7h1.15m-2.8-3.5h1.15m-4.3-5h1.15m-7.2 2h1.15m4.5-9h1.15m2.2 16.1h1.15m-.6-1.5h1.15m-3.9-9h1.15m.2 2.8h1.15m-6.1 5.7h1.15m4.2-7h1.15m-1 2.1h1.15m.6 7.2h1.15m-6.3-11.5h1.15m7.2 14.9h1.15m-9.4-13.7h1.15m-3.6 3.7h1.15m4.3-1h1.15m1.8-2.3h1.15m-7-1.8h1.15m7 9.6h1.15m-1.4-7.9h1.15m-1.1 4.7h1.15m-3.7 1.2h1.15m-5.4-3.1h1.15m-6.2-1.6h1.15m4.3-2.5h1.15m.2 10.1h1.15m-3.6-9.3h1.15m-2.7 4.8h1.15m9.7-.1h1.15m-8.2-5.8h1.15m0 7.7h1.15m-4.2-2.7h1.15m-2.2 3.2h1.15m7.1-1.5h1.15m-4.6-1.4h1.15m-5.9-3.4h1.15m-.1 3.7h1.15m.5 3.7h1.15m1.9 2h1.15m-1-7.2h1.15m-3.9-5.7h1.15m5.3 4.3h1.15m-9.7 10h1.15m-3.9-10.1h1.15m3 .1h1.15m-.5 3.5h1.15m1.1-1.5h1.15m-.9-.9h1.15m-1.5 6.2h1.15m-10.8-5.8h1.15m6.7-6.8h1.15m-14.5 9h1.15m8.8 2h1.15m1.5-3.3h1.15m-2.6 .5h1.15m-3.4-2.6h1.15m5.8 1.1h1.15m-2.3 1h1.15m-4.6-3.9h1.15m3.7 .5h1.15m-3.1-3h1.15m-1.5 8h1.15m-5-8.2h1.15m.9 7.1h1.15m-2.7-3.2h1.15m4.8 2.3h1.15m-6.6 3.9h1.15m.4-6.3h1.15m2.6 1.4h1.15m-1-1.3h1.15m-3.6 7.8h1.15m-.6-3h1.15m-1.2 1.5h1.15m-2.6-1.7h1.15m-2.5 6.1h1.15m-3.8-4.5h1.15m-1.5-1.2h1.15m8.2-6.7h1.15m.7 .5h1.15m-11.7 5.3h1.15m-2.3 2.7h1.15m5.4-15.2h1.15m-9.1 8.2h1.15m6.4-1.4h1.15m-5.8 6.9h1.15m-2.3-1.3h1.15m-2.6 2.8h1.15m10.2-8.8h1.15m-16.6-2.2h1.15m12.4 4.6h1.15m-.8-3.2h1.15m-9.3 5h1.15m7.1-.4h1.15m-9.7 2.1h1.15m3.4 .8h1.15m-2.3-4.6h1.15m-.3-7.6h1.15m-.1 15.2h1.15m-0-8.9h1.15m-9.7 9.3h1.15m3-6.3h1.15m1.9-1.5h1.15m-1.9 8.5h1.15m-3.4 1.7h1.15m2.5-6.5h1.15m1.1 2.5h1.15m-.7-1.5h1.15m-7.8 4.4h1.15m.6-10.1h1.15m3.1 6.1h1.15m-4.9-2.4h1.15m1.4 7.6h1.15m-3.9-13.1h1.15m-3.2 7.3h1.15m.4-4.8h1.15m2.7 5.7h1.15m-5-1.8h1.15m-2.9-3.7h1.15m0-3.1h1.15m1.6 5.3h1.15m-4.6 .7h1.15m1.5-3.5h1.15m-4.2-.2h1.15m6.8-3.7h1.15m-7 10.3h1.15m-5.3-7.4h1.15m-.7-3.5h1.15m7.6 6.3h1.15m-10.6-1.7h1.15m4 1.2h1.15m-5.6 3.4h1.15m-1.1-3.7h1.15m3.1-1.4h1.15m-1.5 .3h1.15m9.4 1h1.15m-9.3-1.9h1.15m-8.5 3h1.15m2-.9h1.15m.1 5h1.15m6.8 4.7h1.15m-8.8-.8h1.15m5.6-10.1h1.15m-10.1 2.1h1.15m8.8-.2h1.15m-10.2 6.2h1.15m-.9-6.3h1.15m2 1.3h1.15m-13.5-5.8h1.15m11.6-.8h1.15m1 5.6h1.15m-5.2 1.4h1.15m-9.5-4.1h1.15m1.9 3.9h1.15m9.4-1.9h1.15m-7.1-7.1h1.15m-3 7.1h1.15m-.4 3.4h1.15m5.4-2.5h1.15m-5.3-6.3h1.15m-.3 6.5h1.15m-10.8 1.3h1.15m3.4 2.7h1.15m3.4-3.8h1.15m4-1h1.15m-9.4 .9h1.15m.6-3.7h1.15m.7 5.3h1.15m-5.6-8.1h1.15m6 11.8h1.15m-2.4-1.3h1.15m2.6-2.6h1.15m-1.7-1.9h1.15m-11.4 .8h1.15m1.2 2h1.15m7.7-.3h1.15m-4.3 7.1h1.15m2-8.4h1.15m-11.3 8.4h1.15m-2.8-16.2h1.15m-5 12.3h1.15m1.1-5.8h1.15m4.3 6.4h1.15m-6.2-5.2h1.15m5.7 5.6h1.15m-3.3-4.6h1.15m-1.3 3.3h1.15m3.9-6.1h1.15m-2.8-4.5h1.15m-3.1 2.5h1.15m-3.2 7.8h1.15m9.5-3.3h1.15m-10.6-2.2h1.15m2.5 .7h1.15m-.2 7.1h1.15m-2.6-8h1.15m-.5-1.2h1.15m-11.6 7.6h1.15m14.1 .7h1.15m-10.6-19.5h1.15m-2.7 16.6h1.15m.2 3.2h1.15m-2.9-3.7h1.15m3.2-1h1.15m-8-1.5h1.15m5.8-1.3h1.15m-7.7-.4h1.15m.3 3.5h1.15m6.8-.1h1.15m-3.6-2.1h1.15m-1.9-7.4h1.15m-1.6 11.8h1.15m-3.7-.8h1.15m-5.2-2.7h1.15m4.3 1.7h1.15m.2 7.4h1.15m-15-15.3h1.15m9.3 6.4h1.15m-1-3.2h1.15m-5-2.9h1.15m1.7 12h1.15m-.9 5.2h1.15m6.7-12.7h1.15m-2.2 5.4h1.15m-9.5-11h1.15m9.9 2.8h1.15m-3.6 6.8h1.15m-11.7-.1h1.15m8.1 2.6h1.15m-3.6-3.4h1.15m.6-2.9h1.15m4.1 5h1.15m-1.6-2.5h1.15m-2.7-5.5h1.15m-8.6 8.2h1.15m.5-5.9h1.15m.4-4.9h1.15m-1.1 8.6h1.15m-3.2-6.7h1.15m7.5 6.5h1.15m-12.7-4.3h1.15m-3.6-4.8h1.15m-2.4 3.8h1.15m8.6 6.6h1.15m-3.4 1.2h1.15m1.7-9.1h1.15m-7 6h1.15m5.2 3.3h1.15m-9.8-12.6h1.15m13 7h1.15m-5.3 1.3h1.15m-11.1 5.7h1.15m6.6 .3h1.15m-.6-10.3h1.15m-3.8 8.3h1.15m-3.9-3.3h1.15m6.6-6h1.15m-7.5 5.9h1.15m4.4-1.1h1.15m-8.1 2.8h1.15m-.7-.6h1.15m2.9-2.6h1.15m.9 5.8h1.15m-10.2-2.8h1.15m3.6-3.4h1.15m-.1 6.2h1.15m-2.1-6.3h1.15m-5.7 .7h1.15m4.1-3.3h1.15m-2.4 6h1.15m5.9-3.2h1.15m1.4 5.4h1.15m-5.8-1.7h1.15m-4.4-5h1.15m-1.8 2.9h1.15m-.2 6.2h1.15m6.6-4.2h1.15m-5.3-5h1.15m-13.5 2.4h1.15m8.1 6.3h1.15m7.9-4.7h1.15m-5.8 3.5h1.15m-5.6-1.2h1.15m-.5 3h1.15m-7.1-16h1.15m3.8 13.5h1.15m2.7-6.2h1.15m-3.3-.4h1.15m-.5-.3h1.15m-8.5 7h1.15m-1.9-10.1h1.15m7.4 6.6h1.15m-14.1 4.5h1.15m3.4-6.8h1.15m3.5 10.2h1.15m-.8-4.6h1.15m-1.6-1.6h1.15m-6.5-2.1h1.15m2.2-4.2h1.15m2.6 8.5h1.15m-.4-5.6h1.15m-.1-3.3h1.15m-2.8 6.7h1.15m-2.9-3.2h1.15m-.3-1.3h1.15m-2.5 5.4h1.15m-8.2 2.1h1.15m8.7-4.2h1.15m-7.2-2.6h1.15m.5 4.5h1.15m3.9 1.9h1.15m-3.5-13.1h1.15m-5.4 6.8h1.15m4.2-4.7h1.15m-3.4 6.4h1.15m-2.8-1h1.15m10.7 .7h1.15m-2.4 1h1.15m-12.2 1.3h1.15m.1-2.6h1.15m-8.8 1.7h1.15m5.7 3.3h1.15m1.7-6.3h1.15m-5.9 1.7h1.15m1.6-3.3h1.15m8.1 2.5h1.15m-5.2 6.7h1.15m-3.2-3.5h1.15m-.7 1.4h1.15m-.9-1.9h1.15m-2.9-4.1h1.15m-3.5-.6h1.15m1.4 8h1.15m-5.8-7.9h1.15m-1.4 2.3h1.15m7.1-1.2h1.15m-4.1-8.1h1.15m-3 11.5h1.15m-3.1-8.7h1.15m3.3 6.2h1.15m4.4-1.9h1.15m-9.2 .8h1.15m-.1-5.9h1.15m4 10.1h1.15m-7.7-4.1h1.15m1.9 3h1.15m-4.9-2.2h1.15m1.9-1h1.15m-3.9-0h1.15m-1.3-3.6h1.15m-3.5 6.8h1.15m6-1.7h1.15m-19.1-5.9h1.15m15.2 13h1.15m2.1-7.7h1.15m-7.5-1h1.15m7.4 2.8h1.15m-12 2.9h1.15m6-12.1h1.15m-7.1 12.4h1.15m5.1-9.3h1.15m-4.8 8.7h1.15m.2-7.9h1.15m-3.3 7.1h1.15m1.6-6.7h1.15m6.5 4.9h1.15m-16.9-2.3h1.15m-6.2-1.4h1.15m9.9 12.6h1.15m-.2-8.3h1.15m1.2-.6h1.15m-6.7 4.7h1.15m3.4 .7h1.15m1-10.1h1.15m-7.3 2.2h1.15m-.8 3.5h1.15m-.3-5.1h1.15m5.6 8.8h1.15m-7-9.8h1.15m-3.8 1.2h1.15m-2.3-.9h1.15m3.5 5.2h1.15m-.4-5h1.15m-1.7 11.9h1.15m-1.4-9.7h1.15m9 2.9h1.15m-14.8 2.3h1.15m-1.5-5.1h1.15m5.9-1h1.15m-11.3 5.4h1.15m8.3-8.5h1.15m-6 10h1.15m1.3-1h1.15m-2.6-5.9h1.15m-3 1.3h1.15m1.9-9.7h1.15m-9.6 11h1.15m9.3-2.7h1.15m-3.8-1.7h1.15m-6.8 5h1.15m4.2-2.7h1.15m-6.2 2.4h1.15m3.9-1.3h1.15m-1.4-.5h1.15m1.5 3.1h1.15m3.9 4h1.15m-8.6-10.6h1.15m1.6 2.5h1.15m2.4-3.6h1.15m-9 12.2h1.15m.6-3.3h1.15m1.5-4.9h1.15m-.5-1.5h1.15m-5.8 12h1.15m-.6-7.1h1.15m-4.7 4h1.15m-.6-8.5h1.15m.1-.8h1.15m-4.4 2.6h1.15m2.6 .8h1.15m-3.2-3.2h1.15m1.5 3.6h1.15m-3.6-.2h1.15m1.7 4.4h1.15m2.3-2.2h1.15m.4-4.6h1.15m.2 3.3h1.15m-8.6 .9h1.15m-3.5 5.5h1.15m4.2-13.2h1.15m-6.7 4h1.15m1.1 3.9h1.15m4.7 2.3h1.15m-2.5-7.9h1.15m1.1 8.7h1.15m-13.4-7.2h1.15m5.2-.9h1.15m4.4 5h1.15m-5-6.8h1.15m-9.7 1.2h1.15m3.8 .1h1.15m-6.4-2.6h1.15m5.6 7.5h1.15m-1.5-2.3h1.15m.6 .7h1.15m4-3h1.15m-5.1-2.1h1.15m2.7 8.3h1.15m-1.9-2.5h1.15" stroke-width="1.15" fill="none"/></g>
<g id="p3"><circle r="5.6" stroke="none"/><path d="M-1.1 -5.2h1.15m.6 10.7h1.15m-13.6 1.5h1.15m6.7-5.1h1.15m-1.1-2.5h1.15m5.5-.2h1.15m2.8 .9h1.15m-5.8-2.6h1.15m-5.8 .9h1.15m2.9 8.3h1.15m-3-11.9h1.15m-3.8-.4h1.15m3.3 5.7h1.15m-7.5-1.6h1.15m7 3.4h1.15m-7.2 1.1h1.15m2.7-5.2h1.15m-2 9.8h1.15m-6.3-3.5h1.15m2.7-1.5h1.15m1-1.5h1.15m-3.4-1.1h1.15m2.3 1.9h1.15m-9.8-.1h1.15m10 1.8h1.15m-5.6-11h1.15m.4 10.1h1.15m2.4-6.6h1.15m-8 1.8h1.15m-1.3-4.9h1.15m-2 5.2h1.15m-.8 8.2h1.15m-2.1-8.2h1.15m5.9-.5h1.15m-.8 4.1h1.15m-8.6-4.7h1.15m1.9 2.1h1.15m-1.3-1.6h1.15m.9-.4h1.15m-5.5 2h1.15m-4.3-.6h1.15m3.1-4.5h1.15m-7.6 10.9h1.15m5-5.7h1.15m-2.6 7h1.15m.6-13.6h1.15m1.6 3.3h1.15m-1.3 3.4h1.15m2.2 2.5h1.15m-7.8 3.8h1.15m11.4-7.9h1.15m-7.7 3.7h1.15m-3.8-6.6h1.15m-6.9 10.9h1.15m3.4-8h1.15m5.6 7.2h1.15m-5.5-9h1.15m-4.2 10h1.15m-9.4-12.5h1.15m3.9 10.5h1.15m3.1-2.1h1.15m-1.3-1.5h1.15m3 14.4h1.15m-4.2-9.4h1.15m-4.8 1.2h1.15m1-5.8h1.15m-3.4-3.9h1.15m-1.5-.8h1.15m-4.2 11.5h1.15m6-3.5h1.15m-.9-9.9h1.15m-3.1 2.2h1.15m-4.6 3.2h1.15m2.8 .8h1.15m-1.3-1.5h1.15m-1.5 6.3h1.15m7.7-.5h1.15m-11.1-3h1.15m3.7 2.5h1.15m-0 1h1.15m-4.5-6.3h1.15m-9.2 5.6h1.15m7.7-8h1.15m-3.6 1.9h1.15m-3.1 8.8h1.15m-.8 2.9h1.15m-.2-13h1.15m-.1 12.9h1.15m-2.3-7.9h1.15m-9.9 .3h1.15m2.6-2.9h1.15m10.1-.5h1.15m-3.8 .1h1.15m-5.5 2h1.15m4.7-.7h1.15m-5.7-4.4h1.15m-8.1 4.5h1.15m5.1 .6h1.15m3.9 2.3h1.15m-9.1-2.4h1.15m3.7-2h1.15m-11.7-2.3h1.15m7.8 6.4h1.15m-2.1-8.9h1.15m5.8 5.6h1.15m-8.7 2.3h1.15m3.6-2.5h1.15m-6.4-2h1.15m4.5 1.7h1.15m-2.4-7.3h1.15m-5.2 6.3h1.15m-1.1-6.5h1.15m-1 14.6h1.15m1.9-8.7h1.15m-5.4-3.4h1.15m2.8 2.3h1.15m-3.7 7h1.15m4.4-1.2h1.15m-12-4.9h1.15m10.6-2.6h1.15m-.8 4.8h1.15m-2.4-1.6h1.15m-10-2.5h1.15m9.8 2.9h1.15m-12.3 4.7h1.15m-2.5-4h1.15m6.7 1.8h1.15m-.8-1.5h1.15m-13.2 1.3h1.15m8.9-1.8h1.15m1.1 4h1.15m-2.3 3h1.15m7-5h1.15m-11.7-6.6h1.15m2.7-2h1.15m3.5 11.5h1.15m-10.3-1.3h1.15m-2.6-7.4h1.15m5.6 .4h1.15m-3.3 3.7h1.15m4.3 1.8h1.15m-1.1 2.3h1.15m-10.9-8.4h1.15m-6.7 4.9h1.15m-3.9-3.5h1.15m.4 .8h1.15m11.7-1.1h1.15m-6.3 1.8h1.15m2.2-4.3h1.15m-1.8 5.7h1.15m-5.9-3.6h1.15m8.2 7.1h1.15m-4.4-6.5h1.15m-4.4-2h1.15m-7 3.5h1.15m3.6-3.2h1.15m-3.7 6.7h1.15m2-8.1h1.15m9.2-.7h1.15m-8.7 3h1.15m.7 4.5h1.15m.3-.6h1.15m-8.5 6.3h1.15m1.7-6.9h1.15m-1.5-2.1h1.15m.9 10h1.15m3.6-5.8h1.15m-4.7 1.9h1.15m-6.4 3.1h1.15m2.5-13.7h1.15m.4 3.7h1.15m-2.5 6.6h1.15m-3.7-1.7h1.15m5.8-6.8h1.15m-14.6 5.2h1.15m5.7 9.1h1.15m3.9-6.4h1.15m-5.7-10.3h1.15m-6.2 6.7h1.15m5.1-.4h1.15m-1.5 4.6h1.15m-4.5-4.6h1.15m-2.3 6.7h1.15m-5.5-2.5h1.15m10.4-10.9h1.15m-6.3 12.9h1.15m-2.9-6.9h1.15m2.4 7.8h1.15m1.6-8.3h1.15m-9.5-3.4h1.15m6-2.7h1.15m-5 11.4h1.15m-3.7-3.8h1.15m3.3 4.5h1.15m-6.2-2.9h1.15m4.2 .2h1.15m-7.5 1.6h1.15m1.9-2.6h1.15m-1.2 8.6h1.15m2.6 .8h1.15m-3.9-10h1.15m7.5-.4h1.15m-5.4 6.3h1.15m-4.5-7.6h1.15m-.7 7.1h1.15m1.7 1.1h1.15m-4-7.3h1.15m-4.7 .7h1.15m1 .8h1.15m-2.6-2.5h1.15m1.5 7h1.15m-1.2-6.4h1.15m4.4 7.9h1.15m-6.6-6.6h1.15m-7.4-5.4h1.15m6.1 12.2h1.15m6.7-2.3h1.15m-10.8-1.3h1.15m-5.2-2.5h1.15m.1 .4h1.15m9.7 9h1.15m-6.3-7.4h1.15m-8.9-4.3h1.15m12.1 7.5h1.15m-4-2.9h1.15m2.2-3h1.15m-8.8 12.7h1.15m-3.9-9.7h1.15m.9 4.3h1.15m-.7-7.6h1.15m-1.4 4.7h1.15m-4-9.5h1.15m2.5 4.7h1.15m1.6 .1h1.15m-5.9 2.6h1.15m3.2 3h1.15m-2.7-11.7h1.15m-1.6 7.5h1.15m-1.4 2.2h1.15m-1.9 2.4h1.15m-1.2 1.2h1.15m-4.5-15.6h1.15m-.6 21.6h1.15m1.8-12.2h1.15m1.1-1.3h1.15m-1.2 2.2h1.15m6.3 4.5h1.15m-8.5-2h1.15m.2-7.4h1.15m1 1.9h1.15m-2.5 3.2h1.15m-.7 5.3h1.15m-2.4-7.9h1.15m-4.9 4.4h1.15m-1.6-4h1.15m.1 .1h1.15m1.5-.4h1.15m-2.9-1.1h1.15m-8.8 6.3h1.15m10.2-5.3h1.15m-1.9 3.3h1.15m-9.3 3.7h1.15m-4.6-5.2h1.15m10.1-4.3h1.15m2.5 2.1h1.15m-2.6 1.7h1.15m-3.4 .6h1.15m5.8 1.9h1.15m-6.7 1.3h1.15m-4.6-4h1.15m-.2 5.2h1.15m.9-1.8h1.15m-5.4 .7h1.15m-4.7-3.1h1.15m-5.5-2.7h1.15m6.7-3h1.15m-5.3 9.8h1.15m5.8 .6h1.15m1.6-1.8h1.15m-2.7-1.4h1.15m.9-7.6h1.15m-7.2 10.7h1.15m3.1-4h1.15m-6 3.2h1.15m-.5-8.2h1.15m4.4 3.1h1.15m-5.2-5.2h1.15m-12.6 8.7h1.15m16.4-11.4h1.15m-10.2 11.8h1.15m1.8-2.1h1.15m-2.1-4.2h1.15m3.6 8h1.15m-4.2-13.6h1.15m4.3 9.4h1.15m-6 8.2h1.15m2.1-8.4h1.15m-2.1 2.9h1.15m-8-2h1.15m-6.1-7h1.15m7 12.4h1.15m-6-.9h1.15m3.6 2.5h1.15m-3.3 4.8h1.15m2.2-13.3h1.15m-2-6.6h1.15m-.7 6.3h1.15m-.5-0h1.15m-14.6-9.5h1.15m7.4 5.5h1.15m5.3 .8h1.15m-3 3.8h1.15m3.4 1h1.15m-6.7-4.6h1.15m-.5 7h1.15m-3.2 .2h1.15m-5-3.9h1.15m4.9-.4h1.15m2.3 4h1.15m-8.9-6.6h1.15m1.4 .9h1.15m-2.8-1.7h1.15m3.8 5.4h1.15m-3.1 2.7h1.15m-12-3.2h1.15m7.4 2.7h1.15m2-.7h1.15m2.1-10h1.15m-11 12.9h1.15m9.3-8.5h1.15m-2.5 7.1h1.15m-11.5-6.2h1.15m6 2.2h1.15m4.9 2.9h1.15m-4.9-5.3h1.15m-10 .2h1.15m9.8 10.2h1.15m-10.4-8.3h1.15m-8.1 6h1.15m4-1.7h1.15m9.4-9.2h1.15m-10.1 8.5h1.15m8.1-5.2h1.15m-11.2 3.7h1.15m8.5-6.1h1.15m-9.7 9.4h1.15m3-8.2h1.15m-2 5.4h1.15m3.1-.8h1.15m-5.5-8.2h1.15m1.2 9.1h1.15m-2.6-2h1.15m-1.5 3.9h1.15m-3.2-9h1.15m4.2 3.4h1.15m-6.1 3.4h1.15m-1-2.1h1.15m-4.8 5.7h1.15m-2.1 .1h1.15m-.8-8.5h1.15m2.3 6.6h1.15m1.5-5.6h1.15m-7.2 6.1h1.15m4.2-2.4h1.15m-2.1-3.8h1.15m2.4 3.3h1.15m.8-.4h1.15m-11.7 2.4h1.15m4.9-4.2h1.15m-14.3-2.6h1.15m12.5 1h1.15m-.8 5.1h1.15m-2.3-6.4h1.15m.7 5.4h1.15m-3.9-9.4h1.15m-5.3 11.2h1.15m2.9-10.8h1.15m-.8 7.6h1.15m2.2 1.6h1.15m-2.2-5h1.15m-9.7 .7h1.15m11.5-3.8h1.15m-3.1 .1h1.15m-10.3 6.6h1.15m.8-1.4h1.15m-2.5 1.5h1.15m7.2-6.6h1.15m-2.5 7.6h1.15m-.1-11h1.15m-.7 4.7h1.15m-6 2.9h1.15m-4.3-1.7h1.15m0 4.2h1.15m4.9-1.9h1.15m-.9 1.9h1.15m.4-6.2h1.15m-5.4 5.3h1.15m-1.1 1.7h1.15m1.6-.9h1.15m-2.4-1.8h1.15m-3.9-1.4h1.15m3.9 5.9h1.15m-.3-5.2h1.15m-7.2 12.1h1.15m4.1-16.2h1.15m-2.6 7.4h1.15m-5.6-2.5h1.15m-3.2-1.1h1.15m-.9-2.6h1.15m.5 1.1h1.15m3.4 8h1.15m-4.8-5.7h1.15m2.2 .9h1.15m4.5-10.4h1.15m-19.2 6.3h1.15m10.6 7.8h1.15m-5.1-3.1h1.15m-.4 1.9h1.15m8.4-11.4h1.15m-.3 13.8h1.15m-11.6-2.3h1.15m0-.1h1.15m1 1.3h1.15m-7.3-.7h1.15m.3-3.8h1.15m4.8-.6h1.15m-3.1 3.2h1.15m-2-6.4h1.15m.4 5.9h1.15m6.1-5.1h1.15m-6 2.6h1.15m-6.8 8.8h1.15m-.4-3.7h1.15m-0-7.1h1.15m-2.6 1.9h1.15m-1.2 9.6h1.15m1.7-14.9h1.15m4.7 8.7h1.15m-5.2 5h1.15m-8.3-5.1h1.15m1.7-2.9h1.15m-1.8 1.9h1.15m5 2.8h1.15m-4.8 1.8h1.15m-12-4.8h1.15m10 1.1h1.15m3.2-.6h1.15m-1.3-1.4h1.15m-4 1.2h1.15m-5 1.7h1.15m2.3-5.9h1.15m.4 2.7h1.15m-4.7-10.1h1.15m-1.7 3.2h1.15m2.6 4.7h1.15m-6.6 2.5h1.15m-4.8 .9h1.15m-.8-1h1.15m7.5 6.2h1.15m1.3-6.3h1.15m-11.1 3h1.15m9.3-5.7h1.15m-2 3.1h1.15m-17.8 .8h1.15m17.7 2.7h1.15m-4.5-1.3h1.15m-12.6-11.5h1.15m1.4 8.2h1.15m-.9-1.7h1.15m6.2 9.4h1.15m-11.4-10.5h1.15m5.5 3.6h1.15m-10.5 13.1h1.15m11.5-10.8h1.15m-12.1-.2h1.15m2 .8h1.15m5-1.9h1.15m-.6-2.6h1.15m-2.2-7.6h1.15m1.1 9.3h1.15m6.4 1.2h1.15m-21.5 5.9h1.15m5.6-11.1h1.15m1.7 10.1h1.15m7.2-7h1.15m-8.4 2.6h1.15m-4.8-3.1h1.15m1 1.9h1.15m3.9-7.8h1.15m-3.6 9.6h1.15m2.6-3.2h1.15m-8.5 2h1.15m-1.9-2.9h1.15m-1.6-.3h1.15m-2.7 .2h1.15m-.1-.5h1.15m-3.5 7h1.15m5.7-4.2h1.15m-6.9 2.9h1.15m2.3-3.1h1.15m.2-0h1.15m2.6-2.9h1.15m-8 4h1.15m.8 1.6h1.15m3.5 3.5h1.15m-1-6.9h1.15m-5.8-.4h1.15m4.3 .6h1.15m-9.5-3.4h1.15m5.6 .7h1.15m-15.3 6.6h1.15m11.2 .3h1.15m1.6-1.1h1.15m-3.6-1.9h1.15m-6-9h1.15m-6.1 10.4h1.15m10.4-1.5h1.15m-7.7 2.6h1.15m1.9-2.6h1.15m-2.5-4.9h1.15m-3.8 6.4h1.15m9.7 5.7h1.15m-8.6-5.4h1.15m-.8-1.2h1.15m1 3.1h1.15m-7.6 3.6h1.15m3.1-11.4h1.15m8.9 .4h1.15m-10.9 .6h1.15m3.9-8.1h1.15m-4.6 4.6h1.15m3.9 15.3h1.15m-4-12h1.15m.1 12.4h1.15m-5-10.7h1.15m3.9-4h1.15m-8.4 5.3h1.15m.5 4.9h1.15m-2.2-9.2h1.15m-6.4 3.9h1.15m6.6 4.7h1.15m-.5-9.8h1.15m-1.4 3h1.15m1.9 1.5h1.15m-7.7-1.1h1.15m4.1 1.9h1.15m6.2 5.3h1.15m-17.4-5h1.15m8 3.5h1.15m-2.9-2.3h1.15m-10.1-7.2h1.15m8.6 3.6h1.15m-4.4 5.2h1.15m-9.1-10.5h1.15m8.9 5.5h1.15m-4.8 7.1h1.15m-.8-5h1.15m1.1-6.9h1.15m4.9 8.8h1.15m-10.6 3.1h1.15m-2.8-7.6h1.15m-2.4 1.9h1.15m.9 2h1.15m-.9 0h1.15m3.5 .6h1.15m-1.4-1.3h1.15m-6.2-8.6h1.15m3.8 2.4h1.15m-1.2 5.6h1.15m-2.8 .2h1.15m1.4-4h1.15m-2.2 8.5h1.15m.8 .1h1.15m-5.6-4.9h1.15m7.8 2.4h1.15m-7.8 2.1h1.15m-5.9-4.7h1.15m4.3 .3h1.15m3.3 2h1.15m-3.8-5.2h1.15m-4.8 3.3h1.15m1 2.1h1.15m-3.3 .4h1.15m7.6-2.3h1.15m-12.6 4.9h1.15m7.7-4.2h1.15m-3.3-9.2h1.15m-3.1 7.7h1.15m6 1.7h1.15m-2.7-1.7h1.15m-9.9-1.4h1.15m-4.8-.2h1.15m8.3-4h1.15m-5.4 11h1.15m-.4-2.5h1.15m-.8 0h1.15m-10.5 4.1h1.15m8.2-8.5h1.15m-3.8 1.7h1.15m2.9-4.3h1.15m-9.2-.5h1.15m7.8 1.7h1.15m-4.3-1h1.15m-2 2.7h1.15m-3.9 6.7h1.15m2.3-8.6h1.15m8.3 .1h1.15m-15.8-3.1h1.15m10.3 7.8h1.15m-6.4 3.7h1.15m-2-1.6h1.15m5.3-1.9h1.15m-4.8-.2h1.15m-3.8 5.1h1.15m.6-4.7h1.15m-11.3-4.9h1.15m3.8 3.6h1.15m3.2 .8h1.15m-3.3 .7h1.15m1 2.3h1.15m-10 .5h1.15m14.3 .5h1.15m-11-8.4h1.15m.3 9.3h1.15m.3-13.9h1.15m-15.9 9.1h1.15m22.2-7.4h1.15m-13.6 6.6h1.15m2.7 3.5h1.15m-9-3.2h1.15m2.7 3h1.15m3.1 1.1h1.15m-7.8-9.2h1.15m.9 2.6h1.15m-1.1-3.2h1.15m-.7-1.6h1.15m5.4 4.7h1.15m-10.5 2.8h1.15m-2.6 .7h1.15m4 5.7h1.15" stroke-width="1.15" fill="none"/></g>
<g id="p4"><circle r="5.6" stroke="none"/><path d="M1.6 -3.3h1.15m.3 3.7h1.15m-2.1-13.2h1.15m-5.8 10.8h1.15m6-2.6h1.15m-5 3.8h1.15m-8.3-1.7h1.15m6.8 1.5h1.15m-4.1 .6h1.15m-.1 1.6h1.15m-1.8-7.4h1.15m-1.8 6.4h1.15m6.6-4.5h1.15m-1.5 1.9h1.15m-1-6.3h1.15m-9-1.2h1.15m-6 7.9h1.15m6.9-1.4h1.15m-2.2-.2h1.15m4.5 1h1.15m.3 9.8h1.15m-13-5.2h1.15m.7 3.9h1.15m2.1 1.4h1.15m-3.3-8.7h1.15m-3.6 1.7h1.15m3.8-.2h1.15m-1.6 2.8h1.15m-2.7-5.8h1.15m-5 .4h1.15m1.6 6.5h1.15m4.1-7.2h1.15m-2.5-.7h1.15m-.2-3h1.15m-.5 6h1.15m-4.2 .3h1.15m-6.5 1h1.15m3.3 2.6h1.15m1.4 2h1.15m-1.5-9.9h1.15m-.2-.2h1.15m-7.3 5.3h1.15m-1.6-1.9h1.15m6.4-.9h1.15m-9-2.9h1.15m14.3 3.5h1.15m-12.7 2.1h1.15m3.3-2.5h1.15m-9.5 .7h1.15m-.6-4.3h1.15m-5.7 6.1h1.15m4.8 5.6h1.15m-1.5-7.3h1.15m6-5.5h1.15m-2.9 3.6h1.15m-9.1 5h1.15m4-6.3h1.15m-.6 11.1h1.15m1.2-5.9h1.15m-6.8-.8h1.15m3.1-.6h1.15m-1.2 5h1.15m-9.2-3.4h1.15m7.1-1.8h1.15m-5.9 7.4h1.15m1.1-6.6h1.15m-3-.9h1.15m-.1 .8h1.15m-6.1-6.2h1.15m2.4 5.2h1.15m-.9 4.4h1.15m1-0h1.15m-0-12.2h1.15m-.2 15.2h1.15m-2.5-6.3h1.15m-6.5 1.3h1.15m-.7-8.2h1.15m4.1 10.6h1.15m-3.2-4.1h1.15m-2.8 7.3h1.15m3.2-8h1.15m-4 2h1.15m4.6-2.8h1.15m-9.3 3.5h1.15m2-7.4h1.15m-1.2 4.8h1.15m-2.3 1.9h1.15m1.5 6.3h1.15m.5-3.5h1.15m-5.6-3.4h1.15m-2.1-2.9h1.15m5.1 11.8h1.15m-1.7-7.3h1.15m-1.9 1.7h1.15m-3.6-3.6h1.15m1.7 6.9h1.15m-3.4-13.5h1.15m1.8 7.7h1.15m-7.7-4.3h1.15m-10.9 .3h1.15m11 5.3h1.15m-.5-6.2h1.15m-2.6 4.3h1.15m3 1h1.15m-.1-9.1h1.15m-3.8 9.1h1.15m-5.9-.4h1.15m.6-5.8h1.15m-4.3 7.2h1.15m6.6 2.3h1.15m-.5-2.5h1.15m-8.6-2.8h1.15m2.1 9.1h1.15m-3.6-13.6h1.15m-1.7 9.5h1.15m.4-1.1h1.15m-.6 1.2h1.15m-5.4-6.1h1.15m7.6 .9h1.15m-7.3 6.9h1.15m-3.2-9.4h1.15m9.3 10.5h1.15m-5.8-12.2h1.15m-6.4 1.6h1.15m3.7 9.1h1.15m3-1.6h1.15m-6.9-.9h1.15m4.1 .5h1.15m-4.5-5.2h1.15m3.5 8.1h1.15m-6.6-4.9h1.15m4.3 4.8h1.15m1.6-6.1h1.15m-3.2-5.1h1.15m-15.4 3.2h1.15m9.3-4.5h1.15m-3.2 6.9h1.15m-.6 .4h1.15m3.5-2.2h1.15m-7.6 3.4h1.15m5.1-4.1h1.15m.1 4.9h1.15m-8.3-3.2h1.15m-2.8 2.9h1.15m2.5 5.3h1.15m-12.2-13.1h1.15m7.3 7.2h1.15m-.5-5.1h1.15m2.1 1.2h1.15m-1.9 5.4h1.15m1.8-10.1h1.15m-8.1 8.2h1.15m1.1-4.9h1.15m2.1 3.5h1.15m-1.8 3.3h1.15m-4.5 .5h1.15m1.1-3.1h1.15m2.3-7.6h1.15m-12.1 1.9h1.15m9.1 5.1h1.15m-6.9-4.7h1.15m-5.8 5.4h1.15m5.7 .4h1.15m2.6-.4h1.15m.7-2.8h1.15m-.6 3.4h1.15m-9.4-1h1.15m9.8-5.9h1.15m-12.4 3.4h1.15m2 2h1.15m5.7-1.1h1.15m-6-1.2h1.15m-8.4 1.4h1.15m2.4 3.3h1.15m5.2-4.5h1.15m-2.1-2.3h1.15m1.5-1.9h1.15m-10.3 7h1.15m-.6-5.6h1.15m3.2 .5h1.15m-.1-1.8h1.15m-.9 9.2h1.15m-3.2 .9h1.15m-4.1-4.5h1.15m4.3-4h1.15m-6.9 3.3h1.15m-1-.2h1.15m-10.1 1h1.15m9.8 5.1h1.15m.9-7.4h1.15m-5.4-1.4h1.15m-1.5 1.3h1.15m4.7 4h1.15m-3.2-3.1h1.15m-4.2 3.6h1.15m-3.7 0h1.15m5.6-4.4h1.15m-4.7-1.1h1.15m5.6 5.3h1.15m-3.4-2.7h1.15m-9.1 .5h1.15m8 7h1.15m-3.6-6.6h1.15m-2.6 4.4h1.15m-6.9-.7h1.15m-.3-2.5h1.15m5.1 .1h1.15m-3.7 4h1.15m-3.1-6.6h1.15m-3.3 2.2h1.15m5.6-1.2h1.15m-11.9 2.2h1.15m9.1-5.2h1.15m-4.6 3.6h1.15m-3.3 .9h1.15m2.3-5.7h1.15m-12.6 .9h1.15m15.6 8.6h1.15m-8.1-9.2h1.15m5.9 7.1h1.15m-1.9 4.7h1.15m-4.4-7.1h1.15m-6 .2h1.15m-2.1 3.7h1.15m2 2.1h1.15m-1.7-4.6h1.15m-2.9 1.8h1.15m-1.3 1.7h1.15m4.4-12.7h1.15m-9 8.4h1.15m4.2 7.1h1.15m-4.5-8.9h1.15m2.4 1.8h1.15m5.9-1.3h1.15m-14.6 6.7h1.15m7-12.4h1.15m-5.5 4.8h1.15m2 4.5h1.15m-2.6-5.4h1.15m-4.1 1.5h1.15m3.1 2.5h1.15m-10.2-5.5h1.15m9.5 10.5h1.15m.6-16.1h1.15m-12.7 11.5h1.15m6.9-2h1.15m6.7-4.6h1.15m-4.3 4.8h1.15m-8.5-8.9h1.15m-3.5 14.6h1.15m4-2.9h1.15m.9-3.9h1.15m-.1 1.9h1.15m-5.4-2.6h1.15m-3.3 2.5h1.15m1 3.3h1.15m-1.6-8.2h1.15m-7.5 6.8h1.15m16.6-3.2h1.15m-20.3 3.9h1.15m5.1-1h1.15m3.1 .1h1.15m-2.2-4h1.15m2.7-.1h1.15m-.7-1.2h1.15m-5.3-.6h1.15m2 .3h1.15m-8.2 6.6h1.15m3.5-4.2h1.15m-6.5 .1h1.15m4.4 2.9h1.15m-5.6-.7h1.15m-6-1.8h1.15m2.9 2.7h1.15m.8 6.4h1.15m1.2-8h1.15m-11-6.9h1.15m12.2 2.8h1.15m-.8-.1h1.15m-3.2-.4h1.15m-1.9 6h1.15m.8-5.8h1.15m-10.1 5.3h1.15m5 .5h1.15m-6.9 .3h1.15m3-7.4h1.15m-2.3 8.1h1.15m1.4-3.2h1.15m-1.5-2.1h1.15m3.5 1.7h1.15m-12-6h1.15m2.5 4.3h1.15m4.1-9h1.15m-1 15.4h1.15m-6.2 .3h1.15m-2-5.8h1.15m-.4 7.2h1.15m5.6-2h1.15m-10.5-4.1h1.15m-1.2 .2h1.15m5.8 5h1.15m-4-4.6h1.15m-1.1-5.4h1.15m6.2 6h1.15m-2 1.9h1.15m-12.3-6h1.15m6.9 6h1.15m-1.2-3.5h1.15m-.4-4h1.15m-5.7-.7h1.15m3.9 6.3h1.15m-2.3-2.7h1.15m-14.5-2.2h1.15m9.9 3.5h1.15m2 4.4h1.15m-7.2-1.3h1.15m-6-.5h1.15m-2.8-.7h1.15m-1.8-.1h1.15m14.9-2.7h1.15m-4.9 5.3h1.15m-15.2-12.6h1.15m10.1 3.5h1.15m-2.9 15.8h1.15m8.3-8.6h1.15m-11.7-.4h1.15m3.2-2.9h1.15m4.3-7.3h1.15m-1.5 6.2h1.15m-2.2 1.2h1.15m-9.1-2.2h1.15m2.4 4.3h1.15m10.4 5.2h1.15m-14-11.8h1.15m-.5 7.5h1.15m-8.7-2.3h1.15m11.4-2h1.15m-13.4 5.1h1.15m12.5-4h1.15m-7.3 5.8h1.15m.5-7.8h1.15m-4.9 2.5h1.15m.3 5.3h1.15m-5.5-3.2h1.15m2.6-10.5h1.15m2.6 9.4h1.15m-9.7-8.1h1.15m8.3 14.6h1.15m-4.8-8.1h1.15m1.5-1.8h1.15m-6.4 6.8h1.15m-3.8 .9h1.15m5 .6h1.15m-10.3-0h1.15m6.3-2.8h1.15m-4.2-7.1h1.15m7.2 6.4h1.15m-3.7 .9h1.15m-.9-9.6h1.15m-5 5.3h1.15m8.7 7.1h1.15m-13.5-12h1.15m5.7 8.8h1.15m1.7-7.4h1.15m.1 5.8h1.15m-2.8 .4h1.15m-8.4-4.6h1.15m6.5-10.3h1.15m-2.4 16.6h1.15m-8.7 .3h1.15m1.2-8.8h1.15m-1.8 8h1.15m.2-5.7h1.15m1.6 6.4h1.15m1.1-2.3h1.15m.1-4h1.15m-9.5-3h1.15m.4 6.3h1.15m-1-5.8h1.15m3.3-1.8h1.15m-9.5-5.4h1.15m7.3 16h1.15m-6.5-2h1.15m-5.6-6h1.15m-0 6h1.15m1.3-.6h1.15m-4-6.6h1.15m5.2 7h1.15m-1.1-3.9h1.15m-1.9-4h1.15m-7 8.1h1.15m-.5-6.6h1.15m-1.1 12.3h1.15m1.1-5.8h1.15m-0 9.2h1.15m-.9-5.9h1.15m3.4-2.7h1.15m-5.2-8.3h1.15m1.3 15.9h1.15m-1.2-.6h1.15m-.4-4.7h1.15m-6.2-4.5h1.15m2.9 5.4h1.15m-7.6-11h1.15m2.8 5.6h1.15m1.3 7.8h1.15m-5.6 .7h1.15m3.7-7.9h1.15m-10.8 6.3h1.15m13.7-4.3h1.15m-6.6-3.9h1.15m-11.6-1.6h1.15m.9-2.5h1.15m1.4 3.3h1.15m4.6 8.1h1.15m-4.2-2.2h1.15m-1.8-4.7h1.15m1.8-1.4h1.15m-1.6 .6h1.15m-5.9-.8h1.15m9 3.9h1.15m-9.5-.3h1.15m-2.5-2.8h1.15m.5-5.2h1.15m-.3 9h1.15m.7-2.5h1.15m2.2-2.8h1.15m-1 7.6h1.15m-5 2.3h1.15m-5.3-5.4h1.15m1.6-4.3h1.15m-1.9 5h1.15m1.9 .9h1.15m-5.7-3.1h1.15m1.2-2.3h1.15m-.7-6.2h1.15m-6 6.9h1.15m2.1 4.8h1.15m-1.9 4.3h1.15m-4.9 .6h1.15m1-12.5h1.15m-.3 2.2h1.15m.7 .7h1.15m2 5.2h1.15m-7.5 1.9h1.15m4.3-5.2h1.15m1.4-.4h1.15m1.3-4.6h1.15m-2.1 3h1.15m-3.2 .1h1.15m2.8 3.5h1.15m-5-6h1.15m-10.4 5.4h1.15m11.3-.3h1.15m-13.6 6.4h1.15m2.9-3.9h1.15m-2.4-6.1h1.15m3.4-8h1.15m-6.5 9.2h1.15m1.3-5.1h1.15m5.1 5.8h1.15m-6.5-7h1.15m-.9 10.5h1.15m2.8-.2h1.15m-5.1-3.5h1.15m-.1 3.7h1.15m-2.8-3.6h1.15m1.3-.2h1.15m-1.6 1.6h1.15m-6.1 5.7h1.15m5.5-10h1.15m-7.9 1.7h1.15m.3-2h1.15m2.2 2.7h1.15m-6 7.6h1.15m1.3-5h1.15m-5.2-5.9h1.15m.2 8.4h1.15m5.9-4.8h1.15m-5.3 2.3h1.15m-3.5-2.4h1.15m6.3-2.7h1.15m-2.4 3.3h1.15m-3.1-.2h1.15m1.6 4.2h1.15m-2.4-10.3h1.15m-2.9 11.5h1.15m-5.8-11.1h1.15m2.1 9.6h1.15m-5.5-1.9h1.15m2.9-1.6h1.15m1.7-.5h1.15m-5.1 1.4h1.15m7.5 1.8h1.15m-4.6-6.3h1.15m-6.1-1.6h1.15m4.7 9.5h1.15m-3.1-.9h1.15m-4.6-4.7h1.15m5.5-.1h1.15m-1.9 8.5h1.15m-10.1-10.4h1.15m10.6 7.7h1.15m-1.7 2.8h1.15m-8.8 1.4h1.15m5.8-4h1.15m-5.4-5.7h1.15m-5.7-4.4h1.15m-1.4 2.7h1.15m3.1 .3h1.15m-9.2 3.6h1.15m-2.3-2.1h1.15m10-4.9h1.15m-8.9 6h1.15m9.3-.3h1.15m-8.5 1.7h1.15m-6.5-7.4h1.15m8.9 9.6h1.15m-1.6-2.8h1.15m-1.7-7.8h1.15m-7.5 5.6h1.15m7.3 2.5h1.15m-5-5.5h1.15m-.7 6.3h1.15m.7-2.1h1.15m4.9-4.3h1.15m-5.8-.4h1.15m-10.1 8.2h1.15m2.5-6h1.15m.6 13.7h1.15m-3.8-11.9h1.15m6.5-1h1.15m3.7-2.9h1.15m-11.9 9.3h1.15m-1.2-6.1h1.15m-6.1 1.5h1.15m8.3-.5h1.15m-8.9 6.6h1.15m6.5-3.1h1.15m-5.6-6h1.15m4.5 3.8h1.15m-7.4-1h1.15m2 4.2h1.15m-2.9-5h1.15m-5.7 .4h1.15m2.6 2.4h1.15m-.3-3.5h1.15m-1.6 4.8h1.15m-1.1-3.3h1.15m-1.7-.7h1.15m1.2 4h1.15m-3.7-3.4h1.15m1.6 3.9h1.15m2.9-8.6h1.15m-3.3 3.5h1.15m-2 5.8h1.15m3.8-5.8h1.15m-4.5-7.9h1.15m-5.1 .9h1.15m-4.3 4.4h1.15m-4.2 4.5h1.15m.3-4.6h1.15m.1 2.6h1.15m4.2 .3h1.15m-7.1-5.2h1.15m5 8.1h1.15m-1-3.9h1.15m1.3 5h1.15m3.2-3.7h1.15m-7 8.1h1.15m-5.5-6.7h1.15m-2.3-1h1.15m4.2 1.9h1.15m-8.7 9.3h1.15m.2-5.3h1.15m2-2h1.15m1 .6h1.15m-.2 3.8h1.15m-7.2-12.5h1.15m-5.1-3h1.15m7.7 1.2h1.15m-9.9 8.1h1.15m4.3-.6h1.15m-11-5.6h1.15m3.5 5.1h1.15m5 1.7h1.15m4 12.6h1.15m-8.3-11.3h1.15m4.7-3.4h1.15m-8.9 4h1.15m6.6-1.2h1.15m-7.8-11.5h1.15m-2.5 14.2h1.15m8.1-9.2h1.15m-5 9.6h1.15m3.3-9.2h1.15m-7.4 3.6h1.15m-4.9 7.4h1.15m-3.9-5.5h1.15m10.4 .2h1.15m-2.3-11.1h1.15m-4 10.5h1.15m-.2-6.7h1.15m-3.3 2.1h1.15m5.6 .7h1.15m-7.5 2h1.15m-1.4 7.7h1.15m5.7-5.4h1.15m-8.5-3.4h1.15m-7.5 2.1h1.15m7.9-1h1.15m-6.3 5.7h1.15m5.9-4.3h1.15m2.2 .4h1.15m-.2-1.8h1.15m-8-1.7h1.15m2 .5h1.15m-3.2 2.5h1.15m-5.9 8.6h1.15m6.4-10.1h1.15m-2.1 2.5h1.15m-6.5 6.1h1.15m4.1-5h1.15m-2.4 .2h1.15m-.1-1.7h1.15m-3.5-.5h1.15m-8.2-1.2h1.15m10.1 7.1h1.15m-5.3-9.7h1.15m2.2 0h1.15m-9.6-2.4h1.15m-5.3 13.5h1.15m7.4-19.6h1.15m-4.7 4.7h1.15m5.7 4.3h1.15m-7.8 5.3h1.15m8.6-5.8h1.15m-8.1-.9h1.15m2.9 5h1.15m-4.5-4.3h1.15" stroke-width="1.15" fill="none"/></g>
<g id="p5"><circle r="5.6" stroke="none"/><path d="M5.5 -1.3h1.15m-2.5 6.3h1.15m-10.7-5.9h1.15m4.6-3.6h1.15m-2.6 5.7h1.15m-7.5-2.5h1.15m7-.7h1.15m-4.9-3.9h1.15m1.3 6.6h1.15m-1.7 4.8h1.15m-.6-7.3h1.15m6 4.6h1.15m-3.8 2.5h1.15m-7.8-9.3h1.15m7.8-3.9h1.15m-10.1 14.5h1.15m-1.7-3.5h1.15m-1.8 6.7h1.15m1.9-6.4h1.15m-6.3-.4h1.15m7.2-4.9h1.15m-1.2 1h1.15m-2.3-1.2h1.15m-4.7-3h1.15m2.6 4.3h1.15m-5.9 7.6h1.15m1.8-7.4h1.15m-4.2 4.5h1.15m2.5-7.3h1.15m-2.8 5.8h1.15m.3 2.5h1.15m2.7 4.2h1.15m-8.1-9.2h1.15m.5-.8h1.15m.2-.5h1.15m2.2-3.6h1.15m-4.6 7.6h1.15m2.8-2.6h1.15m-4 .3h1.15m-.4-.9h1.15m-.2 6.2h1.15m4.5-6.9h1.15m-6.3 2.5h1.15m-2.9-2.9h1.15m-2.4 4.1h1.15m-1.5-3.9h1.15m3.8 2.2h1.15m-7.1-.5h1.15m-1.1-3.1h1.15m1.8 2.1h1.15m-8.4 5.1h1.15m2.6-10.1h1.15m-.1 3h1.15m-.1-2h1.15m-3.6-1.9h1.15m-5.2 7.1h1.15m2.2 5.8h1.15m-1.9-5.6h1.15m-3.3 5.5h1.15m4.2-12.4h1.15m-.4 4.2h1.15m6.8 6.5h1.15m-13.2-1.5h1.15m4-4.4h1.15m-4.4 .4h1.15m-3.8 2.3h1.15m.8-1.6h1.15m-.6-2.6h1.15m8.2 4.2h1.15m-6.3 9.8h1.15m-4-13.9h1.15m-8-2.9h1.15m8.4 .1h1.15m-12.1 5.9h1.15m6.9 6.7h1.15m-6.8-2.7h1.15m-4.7 1h1.15m9.5-9.1h1.15m2.8 4.6h1.15m-3.8-.5h1.15m1.1 2.5h1.15m-9.7-6.3h1.15m-.7 6.8h1.15m4.8-2h1.15m-4.6-3.5h1.15m1.2 5.7h1.15m.6 3.3h1.15m2.8-8.2h1.15m2.2 7.7h1.15m-10.3-4.6h1.15m-.2-3.7h1.15m-6.1 2.4h1.15m.1-11.9h1.15m2.9 3.9h1.15m-2.3 6.3h1.15m-5.2 4.6h1.15m-1.9-7.1h1.15m3.4 4.9h1.15m-5.2-4.1h1.15m-1.3 4.5h1.15m3.6 2h1.15m-3.3-7.1h1.15m2.2 14.5h1.15m2.5-15h1.15m-4.6 3.7h1.15m-4.7-.5h1.15m-4.1-5.2h1.15m4 2.1h1.15m-5.2 2.6h1.15m1.5-.2h1.15m-2.1 0h1.15m.5 3.2h1.15m3.8 .9h1.15m-9.5-0h1.15m5-4.7h1.15m-7.2-6.9h1.15m7.2 9.9h1.15m-1.7-6.9h1.15m-16.3 7.6h1.15m5-.6h1.15m-.9 2.7h1.15m.7-4.1h1.15m2.2-1.1h1.15m-4.7 6.9h1.15m.1-4.2h1.15m1.3-.4h1.15m-1.1 7.4h1.15m1.2-13.6h1.15m-14.7 2.2h1.15m-1.8-7.5h1.15m4.3 7.1h1.15m3.8 5.8h1.15m7.1-4.8h1.15m-12.6 3.8h1.15m5.8-2h1.15m-9.3-9.9h1.15m6 10h1.15m1.8 8.5h1.15m.2-5.6h1.15m-5.3-7.4h1.15m-3 4h1.15m1.3-.7h1.15m-6.3-1.2h1.15m7.2 3.8h1.15m-12.7-2h1.15m-2.3 6.5h1.15m9.1-4.3h1.15m-5-6.6h1.15m4.1 5.8h1.15m.9-2.2h1.15m-7.7 5.9h1.15m.2-4h1.15m0 2.1h1.15m-5.5-5.9h1.15m4 4.4h1.15m-4.4-.4h1.15m-1.7-1.3h1.15m8 9h1.15m-8.9-6.3h1.15m-1.2-4.7h1.15m-1.5 3.2h1.15m-5.3-2.5h1.15m-2.2 4.8h1.15m1.7-5.2h1.15m.5 3.8h1.15m-3.3 5.4h1.15m-1.8-11.4h1.15m.5 1.4h1.15m1.7 6.4h1.15m-5.9-.3h1.15m-1.5-4h1.15m-6.8-6.6h1.15m4.5 15.7h1.15m-4.4-7.5h1.15m1 2.4h1.15m-1.8-2.5h1.15m3.9-1.7h1.15m-3.4 1.2h1.15m1.5 3.4h1.15m-.2-.8h1.15m-8.2-3.4h1.15m4.9 1.9h1.15m.3-5.3h1.15m-8.2 1.7h1.15m3.6 .8h1.15m-6 4h1.15m.8-5.8h1.15m2.2 3.9h1.15m-.8 2.7h1.15m-5.6-3.4h1.15m.8 3.9h1.15m-.8 1.4h1.15m-3.2-4.2h1.15m6.2-5.5h1.15m-11.4 8.3h1.15m6.9 1.2h1.15m-.8 .2h1.15m-6.5-4.1h1.15m3.1-4.9h1.15m-8.4 2.5h1.15m7.8 5.4h1.15m-10.2-5.3h1.15m1.8 2.5h1.15m1.8-.3h1.15m-5.6 4.4h1.15m6.6-8.5h1.15m-5.9 8.3h1.15m.9-2.3h1.15m-4.3 3.8h1.15m-3.7-2h1.15m10.2-6.6h1.15m-2.9 6.2h1.15m-8.9-2.6h1.15m6.9-2.4h1.15m-8.5-9.5h1.15m-5.9 9.7h1.15m4.9 3.9h1.15m2.8 5.4h1.15m-1.8 3.8h1.15m-.9-6.1h1.15m-7.3-3.6h1.15m5.8 2h1.15m-6.7-3.9h1.15m-4.4 1.5h1.15m-.3 2.5h1.15m4-1h1.15m.2-1.1h1.15m-.2-1.5h1.15m-10.8 4.8h1.15m2.3-1.4h1.15m3.9-2.1h1.15m-2.6-.4h1.15m-1-1.1h1.15m-2.5 1.1h1.15m1.8-2.9h1.15m-2.6-3.6h1.15m-5.4-1.5h1.15m1 8.3h1.15m2.7-6.8h1.15m-.7 1.3h1.15m-6 2h1.15m6.7 2.7h1.15m.9 3.2h1.15m-10.4-2.3h1.15m5.2-5h1.15m-8.4 3.3h1.15m-.5-.9h1.15m6.8 1.6h1.15m-9.1-2.1h1.15m-5.2 4.7h1.15m1.7 10.9h1.15m3.1-16.3h1.15m-7.7 .4h1.15m5.2-.5h1.15m-.2 5.1h1.15m-1.5-.7h1.15m-3.3-4.7h1.15m-6.1-3.7h1.15m2 9h1.15m.6-6.8h1.15m2.4 .3h1.15m-9.3-.1h1.15m.8 3.6h1.15m-3.4-6.1h1.15m5.4 7.4h1.15m-1 1.9h1.15m-2.8 4.1h1.15m-2.2-7.3h1.15m4.8 1.8h1.15m-6.9-1.6h1.15m-5.1 2.7h1.15m2.6-.9h1.15m4.9 1.3h1.15m-5.3-1.5h1.15m-1.7 5.1h1.15m-9.1-8.4h1.15m3.1 3.4h1.15m1.3-1.2h1.15m7.2 .7h1.15m-5.4-2.7h1.15m-7.1-2.3h1.15m7.1-.4h1.15m-8.6 13.3h1.15m2.2-8.8h1.15m-3.5-4.7h1.15m1.2 8.5h1.15m-6.1-5.9h1.15m8.8 .5h1.15m-4.7 10.4h1.15m-7.4-9.3h1.15m-1.4-8.4h1.15m7.6 11.1h1.15m-7.4-.6h1.15m-2.4-7.4h1.15m-1.3 2.7h1.15m-2.6 7.1h1.15m-.6-8.5h1.15m2.9 6.1h1.15m4.6-.7h1.15m-13-4.6h1.15m8 .9h1.15m-3.1 9.9h1.15m-8.8-13.2h1.15m3.9 5.8h1.15m3.1-6.3h1.15m-2.3 5.4h1.15m-10.2-0h1.15m7.4 8h1.15m-5.5-4.3h1.15m-3.9 1.5h1.15m4.5 2h1.15m-6.9-10.7h1.15m-2.5 11.5h1.15m3.7-14.2h1.15m-2.3 10.5h1.15m4.4-1.6h1.15m-9-2.4h1.15m-3.7-5.3h1.15m9 9.5h1.15m-4.4-10.8h1.15m-4.1 5.7h1.15m9-1h1.15m-13.3-2.2h1.15m1.3 2.6h1.15m1.2 10.1h1.15m-2.4-16.5h1.15m5.2 5.4h1.15m-8.3 .8h1.15m3.2 2.8h1.15m-.6-1.9h1.15m-2.7-2.9h1.15m-5.7 1.9h1.15m1.3-4.5h1.15m-4.2 11.8h1.15m8.4 1.6h1.15m-1.2-3h1.15m1.1-.9h1.15m-9.3-3.8h1.15m1.4 2.9h1.15m-3-3h1.15m-.7-1.9h1.15m8 5.3h1.15m-18.1 1.5h1.15m3.5-4.4h1.15m2.2 4.5h1.15m-1.3-2.5h1.15m-1.5 8.2h1.15m-.8-12.9h1.15m-6.2 3.7h1.15m2.3 .6h1.15m2.4-5.3h1.15m-2.6 1.7h1.15m-4.3-.9h1.15m.7 .9h1.15m-3 1.5h1.15m-3.5 6.7h1.15m6.6-6.8h1.15m-2.5-2.3h1.15m-2-2.3h1.15m-1.8 6.6h1.15m-2.4 2.4h1.15m-2.9-2.4h1.15m4.3 1.6h1.15m-3.4 4.5h1.15m2.1-4h1.15m-7.2-2.3h1.15m-.4 7.9h1.15m2.5-11.2h1.15m.8 7.4h1.15m-6.9-3.7h1.15m11.1-.5h1.15m-9.7 12.3h1.15m-2.6-17.2h1.15m-4.9 5.3h1.15m5.7-4.1h1.15m-12.4 5.8h1.15m6.2-4.3h1.15m-3.9 6.5h1.15m1.7-9.8h1.15m-4.5 3.5h1.15m-3-.3h1.15m9.4 5.5h1.15m-1.8 .5h1.15m-4.5-2.4h1.15m-8.8 1.5h1.15m8.4-2.1h1.15m-2.8-5.3h1.15m-3.9-1.9h1.15m-1.2 5.2h1.15m-1.8 5.7h1.15m-2-3.3h1.15m3.1-2h1.15m.2 2.3h1.15m-4.9 3.7h1.15m-.2-2.8h1.15m-4.7-6.2h1.15m3.7 13h1.15m-6.9-14.1h1.15m.8 3h1.15m2.2 6h1.15m-2-1.8h1.15m-.4-4.7h1.15m-3.2 4.3h1.15m1.5 3.3h1.15m-1-5.7h1.15m-6.6-2.6h1.15m4.9 4.3h1.15m4.1-3.7h1.15m-5.2 2.2h1.15m-12-4.3h1.15m8.1 3.2h1.15m-4.8 5.8h1.15m.6-3.2h1.15m2.8-3h1.15m-1.6-2.2h1.15m-8.9 8.5h1.15m9.2-1.6h1.15m-9.3-4.3h1.15m-1.9-2.4h1.15m3.1 1.9h1.15m2.9-4.4h1.15m-7.8 1.4h1.15m-4.3 12.4h1.15m10.3-5.9h1.15m-5.3 .8h1.15m-3.1-15h1.15m-10.4 14.8h1.15m-2.4 3.4h1.15m12.4-4.5h1.15m-3 1.6h1.15m-5 4.6h1.15m.2-11.2h1.15m7.3 4.3h1.15m-7.2 4.3h1.15m6.4-5h1.15m-9.6-5.5h1.15m-1.5 12.4h1.15m-4.4-10.4h1.15m-4.9-1.5h1.15m.4 5.2h1.15m5.3-8.2h1.15m-.5 13.4h1.15m.5-8.3h1.15m-1.2 1h1.15m-9-3.7h1.15m-2.7 4.4h1.15m7.3-6h1.15m-11.8 12.1h1.15m3.2 4.3h1.15m4.3-14.9h1.15m1.1 10h1.15m-11.9-5.2h1.15m11.4-5.2h1.15m-5 7.6h1.15m5 4h1.15m-10.7-11.2h1.15m-1 6.2h1.15m.2-2.1h1.15m-4.9 6.9h1.15m1.1-8.2h1.15m1.3 3.6h1.15m-2.1 4.3h1.15m-5.2-3.8h1.15m7.2-2.9h1.15m-4.7 4.5h1.15m.4-2.6h1.15m-8.3-3.7h1.15m3.9 2.5h1.15m-2.4-1h1.15m-7 4.7h1.15m1.6 3.9h1.15m14.5-3.2h1.15m-10.6-5.8h1.15m-7 .9h1.15m7 1.8h1.15m-12 3.2h1.15m3.5 .1h1.15m.9-6.6h1.15m-3 6.2h1.15m-1.6 2.5h1.15m-2.1 .4h1.15m-3.3-10.3h1.15m6.7 10.5h1.15m-4.8-2.9h1.15m-3.8-7.3h1.15m2.8 12.8h1.15m-2.4-15.2h1.15m-10.1 6.1h1.15m11.4-1.1h1.15m-3-1.7h1.15m3.3 5.1h1.15m-12-4.5h1.15m9.5 2.3h1.15m-15.8-1.5h1.15m6.4-9.5h1.15m2.8 16.8h1.15m-5.3-9.4h1.15m.1 1.7h1.15m-.6 4h1.15m-7.3-3.5h1.15m13 .8h1.15m-8.4 1.9h1.15m-5-7.1h1.15m11.5 5.8h1.15m-14.6 3.5h1.15m1.3-7.4h1.15m-1.6-1.8h1.15m-3.2 9.3h1.15m3.5-4.8h1.15m3.7 4h1.15m-8.1-9h1.15m-1.7 11.3h1.15m-2.8 3.6h1.15m1.8-14.4h1.15m-2.1 11.5h1.15m-1.9-4.1h1.15m4.5-4.1h1.15m.1 8.1h1.15m-2.2-13h1.15m-3.1 10.2h1.15m1.2 4.6h1.15m-3.6-7.3h1.15m-10.7-5h1.15m11.9 0h1.15m-6.8-2.2h1.15m-1.4 1.9h1.15m2 4.7h1.15m-1.7-6h1.15m-3.4 9.8h1.15m-13.4-6h1.15m11.5 5.9h1.15m1.7-.8h1.15m-2.2 .6h1.15m-3.2-3.7h1.15m-5.3-.3h1.15m2.6 7.2h1.15m-4.6-5.3h1.15m2.2-.8h1.15m4.5-.5h1.15m-9.4 .7h1.15m6.7 .9h1.15m-2.2-6.9h1.15m-.2 3.7h1.15m-9.9 3.3h1.15m-2.1-.2h1.15m11.3-3.4h1.15m-11.3 6.9h1.15m5.2-1h1.15m-11.8-7.1h1.15m14.4 .1h1.15m-10.7 3.9h1.15m1.7-1.3h1.15m-12.9 3h1.15m4.9 1.7h1.15m8.8-8.5h1.15m-5.8 11.3h1.15m5.4-2.7h1.15m-10.3-2.2h1.15m-2.9 4.5h1.15m4.2-.4h1.15m-13-8.2h1.15m7.1 .7h1.15m-4.2 3.6h1.15m.4 5.8h1.15m.9-9.7h1.15m-2.5 4.4h1.15m3.2-6.4h1.15m-15.1 2.5h1.15m7.9 1.5h1.15m-1.3 1.2h1.15m-2.3-.2h1.15m2.6 2.9h1.15m-.7-1.3h1.15m-1.8-3.5h1.15m-2.8-4.5h1.15m2.5 5.3h1.15m4.6 2h1.15m0 6.1h1.15m-7.7-12.2h1.15m-3.1 8.4h1.15m-.5 .4h1.15m-2.4-4.1h1.15m4.2 2.3h1.15m-3.6-1.7h1.15m-.1-1.3h1.15m.6-2.1h1.15m7.2 3.4h1.15m-17.1-7.7h1.15m-1.4 8.3h1.15m.6 3.2h1.15m-.6-9.1h1.15m-1.1 2h1.15m-.6-2.5h1.15m-.9-3h1.15m-.1 7.2h1.15m-2.3-2.8h1.15m-.7 4.2h1.15m-8.2 3.2h1.15m5.5-2h1.15m5.8-7.2h1.15m-11.6 1.2h1.15m3.1-.2h1.15m-4.9 11.4h1.15m1.4-5.5h1.15m4.1 4.4h1.15m-11.2-4.5h1.15m7.9 3.1h1.15m-7.1-6.4h1.15m2.5 1.9h1.15m-3.3-2.7h1.15m-.3 1.4h1.15m.3-1.5h1.15m-6.4 .7h1.15m2.2 6.4h1.15m-1.9-13.2h1.15m9.7 13.8h1.15m-7.9-3h1.15m-3.4 5.3h1.15m-6.4-4.2h1.15m7.1 6.8h1.15m-4.7-3.5h1.15m1.1-10.5h1.15m-7.6 9.1h1.15m-1.5-6.2h1.15m10.9-2.8h1.15m-5.8 12.2h1.15m2.9-4.8h1.15m-10.6 4.3h1.15m4-7.4h1.15m-7.8-9.3h1.15m5 7.1h1.15m-9.9 5.7h1.15m7-6.3h1.15m-3.9 4.9h1.15m2.8-6.1h1.15m.5 2.9h1.15m-9.2 .3h1.15m3.2 5.4h1.15m1.5-14.2h1.15m-9.1 12.7h1.15" stroke-width="1.15" fill="none"/></g>
<g id="p6"><circle r="5.6" stroke="none"/><path d="M.7 -3.9h1.15m-4.4 10.8h1.15m-8.9-1.5h1.15m13.2-7.7h1.15m-6.8 4h1.15m.4 .2h1.15m3.5-4.4h1.15m-6.2 4.6h1.15m-2.9-2.1h1.15m6.7-8.4h1.15m-6 6.3h1.15m-7.1 1.3h1.15m5.1 4.4h1.15m-5.8-.7h1.15m8-2h1.15m-4.2 1.2h1.15m-1.3-5.9h1.15m1.1 5.9h1.15m1.4 1.5h1.15m-12.4 1.5h1.15m8.3-.5h1.15m-8.1-6.1h1.15m5.7-1.5h1.15m-3.1 3.8h1.15m-7.6-2.1h1.15m-.6 3.7h1.15m-1.7-2.5h1.15m.6 2h1.15m4.1-7.8h1.15m-3.7 3.2h1.15m-3.7 2.4h1.15m6.2 6.8h1.15m-8.6-7.3h1.15m5.8 3.2h1.15m.7-5.1h1.15m-4.2 .9h1.15m-18.1 5.2h1.15m7.1-.2h1.15m1.5 2.2h1.15m-5.6-11.7h1.15m10.8 11.1h1.15m-7-11.3h1.15m2 16.9h1.15m-6.2-11.8h1.15m-3.2 3.5h1.15m2-8.3h1.15m-3.8 10.3h1.15m-2.9-2.9h1.15m7.8 2h1.15m-12.8-.7h1.15m1.6-10.8h1.15m4.7 1.6h1.15m-3.4 11.9h1.15m2.1-5.8h1.15m.4 .8h1.15m-1.7 4.5h1.15m-8.6 2.2h1.15m2.4-6.7h1.15m.2-1.4h1.15m-3.8 3.4h1.15m-1.8-.3h1.15m4.4-4.3h1.15m-5.6 4.5h1.15m.1 .5h1.15m-1.3-4h1.15m-1.8 2.6h1.15m4.6-8.2h1.15m-8 5.3h1.15m-2.5-.3h1.15m7.1 6.1h1.15m-8.5-10.1h1.15m3 7.9h1.15m-7.7-1.1h1.15m5.5 1.9h1.15m-5-.7h1.15m.2 1.5h1.15m.6-1h1.15m-2.1-3.6h1.15m-.3 4.6h1.15m-3.6-2.1h1.15m10.4-4.1h1.15m-16.6-1.3h1.15m3.1 4h1.15m-9.2-8.2h1.15m11.3 2.4h1.15m-1.6 10.8h1.15m-16.6-2.8h1.15m11.7-3.6h1.15m.3 1.1h1.15m-.5 7.8h1.15m-2.2-12.6h1.15m3.4 9.7h1.15m-1-3h1.15m-3.4 6.5h1.15m-5.1-10.6h1.15m5.1 1.1h1.15m-2.3-.8h1.15m-7.9 3.5h1.15m2.2-4.4h1.15m4.2 1.4h1.15m-4.9-2h1.15m-6.5 1.4h1.15m1.9 3h1.15m-.9-.6h1.15m1.8 3.7h1.15m-6.7-3.1h1.15m2.5 2.3h1.15m-.9-4.3h1.15m-4.6 1.7h1.15m2.2-4.6h1.15m-7.2 2.7h1.15m3.2-1.1h1.15m-3.3-.6h1.15m2.8-4.9h1.15m-3.3 5.5h1.15m-1.1 3.4h1.15m-13.4 3.8h1.15m14 1.9h1.15m-.9-2.7h1.15m-2.1 2.8h1.15m-8.8-6.9h1.15m.5 4h1.15m3.7 3h1.15m-1.7-7.3h1.15m-2.4-2.4h1.15m-8.8 2.9h1.15m5.4-1.7h1.15m-4 2.3h1.15m-.8 .7h1.15m2.2-2.5h1.15m-6.7 2.7h1.15m8.9-1.9h1.15m-7.1 3.1h1.15m4.4-4.3h1.15m6.9 6.8h1.15m-6.2-3.3h1.15m-5.7-5.8h1.15m-3.8 4.3h1.15m2.7-2.3h1.15m-7.4 6.8h1.15m2.7-.9h1.15m-1.1-6.3h1.15m-1.7-7.6h1.15m2.9 12.3h1.15m-.3-3.2h1.15m2.1 6h1.15m-16.4-12.3h1.15m7.1 1.6h1.15m-2.8 4.9h1.15m-1.9 6.9h1.15m2.5-3.5h1.15m-2.5 9.5h1.15m3.3-15h1.15m-4.3-.2h1.15m-4.2 2.7h1.15m-6.1-7.3h1.15m-.4 9.9h1.15m-7.6 .2h1.15m1.5-5.7h1.15m5.4 6.3h1.15m1-7.6h1.15m-3.5 5.5h1.15m5.7 .1h1.15m-6.1-2.2h1.15m5.8-2.3h1.15m-9.5 4.9h1.15m6-8.6h1.15m-2.4 11.9h1.15m-4.1-12.6h1.15m-5.2 7.2h1.15m3-4.5h1.15m-3.4 8h1.15m-2.4-4.2h1.15m-.8-4.6h1.15m-.7 5h1.15m3.4-2.4h1.15m-9.6 1.2h1.15m.6 4.4h1.15m.2-8.8h1.15m3.6 6.2h1.15m-2.9 1.9h1.15m2.5-5.4h1.15m-2.9 4.1h1.15m-3.5-.7h1.15m-3.3 1.2h1.15m.9 2h1.15m4.8-6.9h1.15m.8 8.6h1.15m-13.9-5.1h1.15m3.5 5.4h1.15m-5.1 2.2h1.15m-1.6-8.5h1.15m.8-3.7h1.15m-3.3 2.7h1.15m2.4-.1h1.15m-3.9-8.1h1.15m1.5 18.4h1.15m6.9-2.9h1.15m-9.6-2.7h1.15m-1.8-4.1h1.15m1.8 6.2h1.15m-3.9-6.9h1.15m.8-3.4h1.15m2.5 10.3h1.15m.2-1h1.15m-8.5-4.2h1.15m-2.6 2.3h1.15m11.8-5.4h1.15m-7.5 9.8h1.15m-8.1 3.1h1.15m.4-9.2h1.15m3.3 4.2h1.15m.4-4.8h1.15m-7.1-8.6h1.15m-.6 14.8h1.15m-2.3-2.6h1.15m5.1-1.9h1.15m-6.4-3h1.15m.9-4.9h1.15m4.9 2.9h1.15m-9.6 1.7h1.15m.3 4.2h1.15m5-.6h1.15m.4-2.5h1.15m-4.8 4.8h1.15m-3.4-.5h1.15m-5.9 2.7h1.15m6.4-4.8h1.15m-6 2.8h1.15m-4.2-.4h1.15m7.2 7.3h1.15m-5.3-4.7h1.15m1.8-12.3h1.15m-9.1 4.5h1.15m9 8.2h1.15m-7-4.2h1.15m.8-12.1h1.15m2.5 16.1h1.15m-15-9.7h1.15m7.8 3.5h1.15m3.5 5.2h1.15m-7.8-2h1.15m-1.5-4.1h1.15m2.5 3.5h1.15m-4.7 5.7h1.15m2.3-7.9h1.15m1.2-2.6h1.15m-3.1-7.6h1.15m-9.5 8.6h1.15m4 .1h1.15m-1.9 3.9h1.15m6.6-4.5h1.15m-1.9 3.6h1.15m-10.5-7.1h1.15m4.1 10h1.15m-5.2-13.1h1.15m6.7 13.5h1.15m-6.1-.3h1.15m8.2-8h1.15m-11.1 1.9h1.15m4.9-1.9h1.15m-6.9 8.8h1.15m4.3-.9h1.15m-9.1-2.6h1.15m.2 2h1.15m3.4-.8h1.15m-3.9-2.4h1.15m1.1-1.4h1.15m-1.4-3.1h1.15m-7.4-3.1h1.15m3.2 10.5h1.15m1.2-11.6h1.15m-1.3 8.3h1.15m-3.4 .8h1.15m1.9 4.7h1.15m1.6 2.3h1.15m-3.9-10.3h1.15m2-2.6h1.15m-3.2 .8h1.15m-7 9.2h1.15m-1.3-.6h1.15m4-4.9h1.15m-.7 3h1.15m-3.6-5.1h1.15m1.7 1.3h1.15m-4.8 3.2h1.15m-1.3-.8h1.15m.5 .1h1.15m-1.9 4.5h1.15m-3.6-7.4h1.15m-4.3-7.8h1.15m6.6 11.5h1.15m2-7.9h1.15m-10.1 3.6h1.15m9.9 6.1h1.15m-9.8-3.9h1.15m.8-4.5h1.15m-1 .2h1.15m-2.2 7.2h1.15m-.4-5.7h1.15m-3.5 6.1h1.15m-2-8.8h1.15m-.3 3.4h1.15m-.8 2.1h1.15m-1.8-1.4h1.15m4 3.7h1.15m-1-2h1.15m-6.6 .9h1.15m-5.5-5.8h1.15m8.1 2.6h1.15m-7.2-2.5h1.15m3.3-.4h1.15m2 5.6h1.15m-13.2-2.9h1.15m1.8 4.3h1.15m5.1-4.2h1.15m-5.9 3.7h1.15m-1.1 3.7h1.15m-1.3-4h1.15m-6.5 .1h1.15m4.3-.5h1.15m5.9-1.8h1.15m-15.8-7.6h1.15m9.3 4.6h1.15m-6.2 7.8h1.15m2.6-.4h1.15m3.5-5.4h1.15m-4.4-3.2h1.15m-0 4.7h1.15m3.6 3.5h1.15m-8.3-6.2h1.15m-1.4 2.7h1.15m2.8 4.2h1.15m-9.1-8.4h1.15m5.1-.7h1.15m-2.9-2.3h1.15m-2.1 5.4h1.15m-1.1-.8h1.15m2.1 6.2h1.15m-.2-4.7h1.15m-5.3-1.6h1.15m-2.9 2h1.15m1.1-.2h1.15m.5 4.3h1.15m-4.7-4.4h1.15m3.7 1.8h1.15m-6.6-5.5h1.15m4.7 .4h1.15m-2.1 .3h1.15m4.3-.2h1.15m-.9 7.3h1.15m-2.8 2h1.15m-4.6-6.1h1.15m6.6-.5h1.15m-10.2-3.7h1.15m-2 7.8h1.15m-3.9-1.8h1.15m.5-2h1.15m2.6 4.9h1.15m-6.7-10.4h1.15m3.7 2.6h1.15m-4.8 1h1.15m4.7 12.1h1.15m-7.5-0h1.15m1.8-10.1h1.15m2.7 9.1h1.15m-6.6-9.1h1.15m7.3 4.9h1.15m-20-4.2h1.15m6.9-1.8h1.15m2.6 .5h1.15m-3.3 10.3h1.15m-6-7.7h1.15m7.8-6.6h1.15m-8.2 1.3h1.15m6.9 .2h1.15m-2.6-.4h1.15m-8.2 6.6h1.15m7.2-7.3h1.15m-8.6 6.5h1.15m-1-5.8h1.15m-1.6 5.9h1.15m-7.4 5.9h1.15m16-2h1.15m-8.5-7.8h1.15m1.8-1.8h1.15m5.4 2h1.15m-5 5.8h1.15m-7.8-4.3h1.15m-2.7 1.4h1.15m4.6-.4h1.15m-4.9 .1h1.15m5.3 3.6h1.15m-4.2-6.3h1.15m-5.1 4.6h1.15m-.8-4.8h1.15m6 3.2h1.15m-5.8-2.8h1.15m-.9 5.7h1.15m-1.2-9.3h1.15m-4.3 8.2h1.15m1.8 1.8h1.15m-3.3-4.3h1.15m3.7 0h1.15m-1.3-6.9h1.15m-8.6 10.9h1.15m6-.7h1.15m-.7 .7h1.15m-9.4 2.7h1.15m6.9-11.3h1.15m-10.1 6.4h1.15m1.5 .5h1.15m.4-8.2h1.15m-3.4 4.5h1.15m2.2 4.8h1.15m-3.8-1.4h1.15m.6-2.4h1.15m-9.6-1.5h1.15m2.4 4.8h1.15m9.1-1h1.15m2.9-.7h1.15m-6.2-2.5h1.15m-3.1-2.7h1.15m-3.8 8.3h1.15m0-5.5h1.15m-1.6 3.4h1.15m4.9-8.2h1.15m-6.8 5.6h1.15m-2 .4h1.15m1.9 4.9h1.15m-10.3-9.6h1.15m6.3-1.1h1.15m.3 2.4h1.15m-3.6-1.3h1.15m-4.3 15.9h1.15m1.2-5.2h1.15m-0-3.4h1.15m-4.3-.5h1.15m0-13.7h1.15m-9.8 11.1h1.15m12.4-2.7h1.15m-8.3 .8h1.15m10-5.2h1.15m-5.3 12.3h1.15m-9.4-8.6h1.15m2.8 1.1h1.15m4.4 3.1h1.15m-7.3 1.1h1.15m6.1-3h1.15m-9.6 5.4h1.15m9.4 2.6h1.15m-4.9-7h1.15m-1 3.1h1.15m-1.9-2.4h1.15m.6 3.8h1.15m-10.5-.7h1.15m-.1-2.4h1.15m2.4 1.5h1.15m-2.6-3.5h1.15m-1.2-.5h1.15m-4.9 4.2h1.15m2.4-.7h1.15m1.2 .3h1.15m1.2-7.1h1.15m-4 6.2h1.15m-3.5-3.5h1.15m3.2 7.9h1.15m-.4-2.3h1.15m-2 5h1.15m-2.3-4.1h1.15m12.5-2.2h1.15m-15-7.9h1.15m-7.8 15.1h1.15m5.8-12.5h1.15m-3.4-.8h1.15m.8 1.9h1.15m1.2 8.8h1.15m-1.5-5.9h1.15m-3 5.4h1.15m-6.7-9.6h1.15m2-.9h1.15m3.2 3.3h1.15m-7.1 3.8h1.15m2.4-.5h1.15m-.8-3.9h1.15m-5.5 4.1h1.15m-.6 2.3h1.15m3.7-4.4h1.15m-5.5 6.9h1.15m1.1-4.5h1.15m-2.7 2.6h1.15m3.2-.5h1.15m.6-4.8h1.15m-8.2 .8h1.15m-.1-1.8h1.15m8.4 5.4h1.15m-6.7-1h1.15m1.2-1.8h1.15m-5-.3h1.15m1.1 7.9h1.15m-7.8-8.2h1.15m1.4 9.5h1.15m-1.1-4.5h1.15m3.6-3.1h1.15m.7-.3h1.15m-6.7 6h1.15m-4.7-15.3h1.15m.4 10.5h1.15m-.7-2.5h1.15m5.4 2.5h1.15m-3.2 1.7h1.15m-2.6-.1h1.15m-.5 1.8h1.15m2.5-5.8h1.15m-.8 3.5h1.15m-2.4-2.3h1.15m-9.3-3.4h1.15m7.3 7.3h1.15m-11.1-9h1.15m-3.3-1.7h1.15m9.7 2.9h1.15m-1.6 8.3h1.15m-10.3-5.3h1.15m7.3 1.3h1.15m1.8 3h1.15m-3-8.6h1.15m1.3 12.7h1.15m-10.4-9.2h1.15m4.9-1h1.15m-1.7 2.7h1.15m2.5-2.6h1.15m-6.3 9.3h1.15m3.9-9.8h1.15m-10.6 1.7h1.15m6-.8h1.15m-9-4.2h1.15m1.6 5h1.15m2.7 4.6h1.15m-5.3-8.2h1.15m-5.4-.8h1.15m4.9 2.9h1.15m-1 2h1.15m-2-6.7h1.15m1.2 7.3h1.15m-5.2 12h1.15m-8.2-19.8h1.15m6.7 3.9h1.15m-2.6 3.4h1.15m7.3 1.2h1.15m-4.9 4.3h1.15m-8.3-7.3h1.15m5.4-.6h1.15m-2 .4h1.15m-3.3-4h1.15m-2.9 3.6h1.15m4.9 3.4h1.15m.2-12.2h1.15m-8 5.2h1.15m2.6 4.8h1.15m-2.9 4.1h1.15m-1.4-3.6h1.15m3 1.4h1.15m-4.7 3.7h1.15m3.2-1.7h1.15m-3.2-3.1h1.15m-5.3-8.8h1.15m-2.6 1.5h1.15m3.3 .4h1.15m-3.1 2.1h1.15m1 3.1h1.15m4.5 4.6h1.15m-.4-3.4h1.15m-14.9 3.7h1.15m14.3-5.7h1.15m-3.3 1h1.15m-6.6 .2h1.15m-4.1-1.5h1.15m-5.9 2.6h1.15m6.6 2.3h1.15m-1.9-1.2h1.15m8.3 2.4h1.15m-10.9-3.1h1.15m-.5 4.3h1.15m-3.4-1h1.15m2.7-15.3h1.15m-.9 8.6h1.15m-6.9 2.3h1.15m3.9 10.2h1.15m-2.1-13.8h1.15m-2 5.6h1.15m-4.5-2.9h1.15m-4-4.2h1.15m3.8 8.2h1.15m-3.1-6.6h1.15m2.2-.7h1.15m-3.1 .4h1.15m8.3 1.9h1.15m-2.6 2.4h1.15m.5-4.5h1.15m-7.8-5.9h1.15m3.5 12.5h1.15m-8 5.8h1.15m12.2-2.1h1.15m-6.4-6h1.15m-11.1-6.5h1.15m6.6-1.5h1.15m-6.3 14.8h1.15m1.1-12.3h1.15m-6.2 10.5h1.15m-2-7.1h1.15m-2.6 1.6h1.15m2.1 4.5h1.15m-2.6-6.1h1.15m-6.9 7.3h1.15m13.7-6.6h1.15m-5.6 3h1.15m2.7-8.7h1.15m-9.4 16.2h1.15m7.5-6.9h1.15m-5.9 1h1.15m2.5 .2h1.15m-9.3-3.6h1.15m4.9 1.2h1.15m-7.1-2.2h1.15m-.9-.8h1.15m3.9 4.2h1.15m.4 1.8h1.15m-3-9.4h1.15m-1.5 3.3h1.15m-8.5-.7h1.15m7.6 6.9h1.15m-3.3-10.1h1.15m-.9 2.7h1.15m4.3-2.2h1.15m-2.9 4.3h1.15m-3-2h1.15m-.6 2.9h1.15m-4.1-4.4h1.15m-2.8-3.4h1.15m3.4 6.6h1.15" stroke-width="1.15" fill="none"/></g>
<g id="p7"><circle r="5.6" stroke="none"/><path d="M5.7 -6.2h1.15m-.8 8.2h1.15m-9.6 .1h1.15m-4.5-7.8h1.15m9.2-2.6h1.15m-6.2 14.1h1.15m-.7-.2h1.15m-2.6-8.3h1.15m4.7 6.5h1.15m-6.4 2.1h1.15m-5.5-1.5h1.15m1.9-3.3h1.15m1-.2h1.15m.6 5.1h1.15m2.5-5.5h1.15m-6.7-4.5h1.15m5.5 8h1.15m-10.7-3.1h1.15m7.8-3.6h1.15m-6.3 2.9h1.15m-3.5 .3h1.15m-8.3 3.8h1.15m5.3-3.6h1.15m-5.1 9.1h1.15m7.1-17.7h1.15m-6.1 6.7h1.15m-2.7-4.3h1.15m-2.6 2h1.15m5 4.6h1.15m3.5-1.7h1.15m-15.9 0h1.15m12.8-4.3h1.15m-5 6.3h1.15m-6.1-2.2h1.15m-1.2 6.8h1.15m5.8-5.7h1.15m-1 2.6h1.15m-7.6-8.4h1.15m-3.5 .2h1.15m8.2 9.9h1.15m1.8-10.1h1.15m-7.5 10.6h1.15m6.3-6.4h1.15m-10.1-.3h1.15m2.2 5h1.15m1.1-5.2h1.15m.9-2.3h1.15m-4.6 9.8h1.15m.9-3.8h1.15m-7.4-2.1h1.15m-2.6-2.5h1.15m-2.3 7.4h1.15m-1.9-7.5h1.15m9.4 4.6h1.15m.5 4.9h1.15m-6.6-1.9h1.15m-7.6-3.6h1.15m10.9 1h1.15m-7.2 9.4h1.15m1.1-17.3h1.15m.2-4.5h1.15m-3.8 12.1h1.15m-5.2-4.8h1.15m-1 14.6h1.15m-3.9-14.7h1.15m2.6 1.7h1.15m6.8 3h1.15m-8.9 1.8h1.15m.8-3.9h1.15m-3.7 .2h1.15m-.5-1.1h1.15m-.8 7h1.15m-6.1-3.7h1.15m7.1-2h1.15m-4.3 5.1h1.15m-2.8-2.2h1.15m2.9-1.7h1.15m-2.5 2.6h1.15m4-7.8h1.15m-2.9 1.6h1.15m-9.2 3.6h1.15m3.3-8h1.15m4.9 5.3h1.15m-5.1 3.5h1.15m-1.5-1.3h1.15m-2.4 0h1.15m-3.8 4.3h1.15m.9-3.2h1.15m-4.1-4h1.15m1.9-3.3h1.15m4 4.3h1.15m-8.4-.5h1.15m.7 4.2h1.15m1.3-4.9h1.15m-8.7 2.2h1.15m2.9-2.5h1.15m4.4-1.2h1.15m-9.8 8.1h1.15m.8-4.7h1.15m-3-4.3h1.15m-.7-1.9h1.15m4.8 8.1h1.15m3.7-1.5h1.15m-11.2 4.5h1.15m-1.1-.1h1.15m-1-11.5h1.15m-.6 6.2h1.15m2.4-.6h1.15m-2.2 2.8h1.15m-5.8-5.6h1.15m-.6-2.1h1.15m2.2 9.3h1.15m-2.8-5.3h1.15m-4.7 5.3h1.15m8-11.5h1.15m2.9 15.1h1.15m-11.7-6.3h1.15m1.6 1.6h1.15m-3.2 .1h1.15m2.9 8.3h1.15m-4-12.6h1.15m3.2 2.5h1.15m-4.6 .5h1.15m-3.3-2.2h1.15m-1.6-1.3h1.15m-1 10.6h1.15m.4-10.7h1.15m-4.9 8.1h1.15m.4-4.2h1.15m-5.7-9.1h1.15m6.8 1.6h1.15m-1.2 10.3h1.15m-5.5-5.6h1.15m.4-.8h1.15m-.9 1.1h1.15m-.5 1.9h1.15m1.8 1.7h1.15m-3-5h1.15m.6 6.3h1.15m-2.5-4.7h1.15m6.8-7.4h1.15m-7.2 9.9h1.15m2.4 6.4h1.15m-4.6-9.1h1.15m-1.4-2.8h1.15m-3.1 1.5h1.15m.5-3.9h1.15m-4.5 7.8h1.15m-.7-2.2h1.15m-3.2 .4h1.15m7.6-1.3h1.15m-12.1-1.8h1.15m2.3 6.9h1.15m-.5 .3h1.15m5.4-6.6h1.15m-5.7 2.3h1.15m1.6 4.4h1.15m-3.3-7.7h1.15m-4.1 4.1h1.15m-.1-2.1h1.15m.2 4.2h1.15m-.9-4.8h1.15m-4-1.6h1.15m-2.5 7.1h1.15m.9-3.1h1.15m4-1.6h1.15m-5.4-3.6h1.15m2.4 5.1h1.15m-1.6 3.8h1.15m-4.5-.9h1.15m-6.7-4.3h1.15m-3 6h1.15m8.9 1.8h1.15m1.8 .6h1.15m-7.3-12.1h1.15m-1.9 14.2h1.15m2.6-3.6h1.15m-.3-2.4h1.15m-5.5-6.8h1.15m3.7 .9h1.15m1.9 5.8h1.15m-5-2.1h1.15m-10.7-3.6h1.15m9.5-1.5h1.15m-9.8 11h1.15m-4.7-6.3h1.15m8.7 8.2h1.15m1.6-6.1h1.15m-12.4-2.9h1.15m-1 2.2h1.15m.2 2.9h1.15m6.9-6.2h1.15m-2 3.1h1.15m-2.4-.9h1.15m1.4 .3h1.15m-5.6 1.2h1.15m-2.5 3.4h1.15m5-13.1h1.15m-5.6 7.7h1.15m-.3 2.5h1.15m4.5 4h1.15m-14.3-2.5h1.15m-.9 .7h1.15m8.2-7.4h1.15m-4.9 1.2h1.15m5.7-.3h1.15m-7.7 3.9h1.15m7.1-4h1.15m-6.7-.5h1.15m1.9-1.8h1.15m-3.7 6.3h1.15m-4.3 3h1.15m7.9-4.6h1.15m-7.3 .8h1.15m2.3 2.5h1.15m-5.6-3.6h1.15m-4.5-.8h1.15m1.9 7.8h1.15m2.3-15.3h1.15m-6.7 13.5h1.15m5.5-12.1h1.15m-6.2 13.5h1.15m-3.6-8h1.15m2.1-2.5h1.15m2.8 4.9h1.15m-4.7-3.5h1.15m2.3 1.4h1.15m-8.6 .7h1.15m-3.3-1.7h1.15m13.5-.9h1.15m-14.1 3.3h1.15m3.8 1.6h1.15m-1.5-8.4h1.15m-4-2.2h1.15m3.6 10.6h1.15m-.7-7.9h1.15m-12.7 6.5h1.15m3-5.1h1.15m-.4-1.5h1.15m-5.3 7.7h1.15m7.5 1.6h1.15m-1.1-2.7h1.15m-.6-1.6h1.15m-2.5 .5h1.15m-10.8 2.3h1.15m15 4.6h1.15m-9-4.7h1.15m.6 5.6h1.15m4.7-10.1h1.15m-11 1.2h1.15m-.4 8.1h1.15m-6.5-10.8h1.15m.9 1.8h1.15m7.1-1.6h1.15m-.5 11.1h1.15m-3.7-1.8h1.15m-2.7-3.5h1.15m-1.4 3.1h1.15m1.4-1.8h1.15m1.1 1.5h1.15m-8.7-3.1h1.15m-.1-2.7h1.15m1.7 4h1.15m-1.2-3.3h1.15m4.2 2.8h1.15m-15-.3h1.15m5.6 1.1h1.15m3.8 4.1h1.15m-5.7-3.2h1.15m-.4-6.3h1.15m-6.8 3.9h1.15m11.1-2h1.15m-2.7 1.2h1.15m-2.2-1h1.15m-2.2-3.4h1.15m-.4 11.7h1.15m.3-9.8h1.15m-13.2 3h1.15m1.9-1.3h1.15m7.5-8.7h1.15m-6.3 8.5h1.15m2.9 2.3h1.15m2.8 .2h1.15m-5.2-10h1.15m-4 6.9h1.15m-1.3 5.5h1.15m-6-14.7h1.15m11.3 9.8h1.15m-10.2 6.5h1.15m3.8-5h1.15m-3.2 2.2h1.15m-6.1-2.5h1.15m11 1.9h1.15m-8.3 5.9h1.15m-1.4-1.5h1.15m-.7-7.5h1.15m-.9 2.1h1.15m-8.4 7.2h1.15m6.6 .5h1.15m-6.2-10.4h1.15m-3.3 .8h1.15m6.6 9.2h1.15m-5.6-9.8h1.15m4.7 3.4h1.15m-7.9-4h1.15m-1.2 6.8h1.15m-.7-6.3h1.15m5.9-1h1.15m-1.7-3.5h1.15m-8 11.5h1.15m3.9-9.4h1.15m-8.4-3h1.15m5 5.7h1.15m-1.3 .7h1.15m9 5.4h1.15m-18.8-4.1h1.15m.1-.1h1.15m2.7 0h1.15m-1.4-9.5h1.15m2.7 1h1.15m-7.4 4.5h1.15m3.3-2h1.15m-2.5 5.3h1.15m7.4-3h1.15m-8 5.5h1.15m-2.9-1.9h1.15m3.6-3.5h1.15m-17 1.5h1.15m11.9 3.3h1.15m-.3 2.7h1.15m-2.9-7.3h1.15m-6.1-2.9h1.15m7.4 2.9h1.15m-8.4 8.6h1.15m-3.3-2.6h1.15m.1-5.8h1.15m.9 3.8h1.15m-.5 2.2h1.15m-2.3 3.9h1.15m-.2-15.3h1.15m-3.5 3.6h1.15m4-1.8h1.15m2.5 1.9h1.15m-8.1 8.3h1.15m-7.9 4.3h1.15m4-16.8h1.15m8.8 7.1h1.15m-14.9 3.5h1.15m13.1 4.2h1.15m-5.4-10.9h1.15m-5.9 7.6h1.15m3-4.7h1.15m3.1-4.1h1.15m-.4 .7h1.15m-10.2 4.3h1.15m4.4 5.4h1.15m-11.1-9h1.15m2.4 3.3h1.15m-1.6-4h1.15m8.7 7.7h1.15m-7.4 .9h1.15m-2.2-10.5h1.15m-8.1 9.2h1.15m6.4-3h1.15m-5.1 1h1.15m4.2 5.2h1.15m3.3-8.5h1.15m1.2 6.7h1.15m-2.4-4.7h1.15m-3.3-6h1.15m-.4 3.6h1.15m-4.5 .3h1.15m-2.9 3.2h1.15m-6.7 .3h1.15m8.5-.2h1.15m-.3 9.4h1.15m-5.5-3.9h1.15m-.9-10.7h1.15m1.4-.3h1.15m-4.3 14.8h1.15m-4.4-14.5h1.15m.3 6.7h1.15m4.1-4.4h1.15m-7.5 5.1h1.15m1.2 1.8h1.15m-4.3 1.6h1.15m3.5-6.2h1.15m-9.2-1.2h1.15m5.3 6.2h1.15m-0-9.1h1.15m-7.8 8.1h1.15m-.2 3.6h1.15m4.9-9.6h1.15m-5.8 8.1h1.15m1.7-5.2h1.15m-9.1-.1h1.15m3.1-10.4h1.15m2.2 9.2h1.15m-5.5 12.6h1.15m-.8-15.9h1.15m5 5.2h1.15m-1.1-2.6h1.15m4.2-2.3h1.15m-15.7-1h1.15m6.2 4.8h1.15m8-.7h1.15m-11.7-2h1.15m-2.7 5.5h1.15m-2.7 2.8h1.15m-.1-8.8h1.15m3.1-4.2h1.15m-.8 7h1.15m4.1 3.2h1.15m-17.4-1.6h1.15m5-5.7h1.15m-.5 12.8h1.15m.6-8.6h1.15m4.6 7.8h1.15m-6.7-7.2h1.15m1.6-.3h1.15m-3.1-5.2h1.15m-2.5 1.4h1.15m-3.2 1.1h1.15m2.8-.6h1.15m-2.6 6.8h1.15m3.7-8.1h1.15m-12 15.1h1.15m5.7-3.3h1.15m-.5-0h1.15m1-7.9h1.15m-5.5-.4h1.15m-2.6 2h1.15m2.5 1h1.15m1.4-6.9h1.15m-2.1 4.8h1.15m2.1 6.8h1.15m-7.5-16h1.15m.4 8.8h1.15m-5.2 1.9h1.15m2.1 1.1h1.15m-5.6-1.7h1.15m3.4-2.1h1.15m3.8-1.6h1.15m-7 5.8h1.15m-5.9-.3h1.15m2.2-12.8h1.15m8 16.8h1.15m-6.8-11.3h1.15m-9.2 5.6h1.15m12.9-7.8h1.15m-7.9 13.1h1.15m2.5-7.5h1.15m4.2-4.7h1.15m-7.7 10h1.15m-9.2-6.6h1.15m2.9 14h1.15m.4-12.4h1.15m-3.3 11.5h1.15m9.9-14.7h1.15m-13 6.3h1.15m3-.9h1.15m-5.2-9.4h1.15m2.7 3.7h1.15m9.4 5h1.15m-11.1 1h1.15m-5-.9h1.15m-3.2-.9h1.15m5.6 .1h1.15m-15.1 2.4h1.15m7.4 1.6h1.15m2.6-4.2h1.15m.5-2.7h1.15m-2.9 1.3h1.15m1 5.4h1.15m-7.1-5.7h1.15m-1 9.6h1.15m-1.1-8.1h1.15m1.2-3.6h1.15m2.2 2.8h1.15m1-2.8h1.15m-4.2 13.4h1.15m1.2-9.5h1.15m-1-5.1h1.15m-3 6.8h1.15m-1 .7h1.15m-.3-4.9h1.15m-6.4-1.8h1.15m3.2-3.3h1.15m-3.8 4.1h1.15m.2 13h1.15m-4.3-4.9h1.15m7-9.3h1.15m-7.7 5.8h1.15m-4-2.9h1.15m1.4 2.5h1.15m-2.4 4.1h1.15m3.4-5.1h1.15m-2.2-6.9h1.15m-8.8 1.6h1.15m6 11.9h1.15m-4-11.1h1.15m-3.1 5.7h1.15m-2.6-4.6h1.15m7.1 8.8h1.15m-3.5-5.2h1.15m-3 2.5h1.15m-12-1.6h1.15m11.9-2.2h1.15m-3.5 3.1h1.15m-1.7 .9h1.15m-2.4-1h1.15m5.9-5.9h1.15m-.7 5.9h1.15m-4.2 3.8h1.15m-.5-9.1h1.15m-.3 8.5h1.15m-5.2-5.8h1.15m-.8-1h1.15m-3.4 5.1h1.15m6.7-8.5h1.15m-6.3 4.1h1.15m2.5 5.8h1.15m-2.4 .4h1.15m1-2.1h1.15m-2.9 1.7h1.15m-5.4-9h1.15m4.6 8.5h1.15m2.1-4.2h1.15m-12.7 1.9h1.15m9.6-4h1.15m-7.8 .1h1.15m-6.8 7.3h1.15m3.4 1.7h1.15m-1.1-13.9h1.15m-3.4 3.2h1.15m-.2 3h1.15m.2 7.7h1.15m-8.9-11h1.15m8.6 7.3h1.15m-1.2-3.2h1.15m.6-.7h1.15m-4.5 2.3h1.15m-6-1.5h1.15m1.6 1h1.15m1.3 4.1h1.15m1.9-3.9h1.15m-6.7 1.1h1.15m-6.7 1.3h1.15m11.2-2.8h1.15m-1.9-6.6h1.15m-5.9 2.1h1.15m3.3 6.1h1.15m2.9-6.7h1.15m-11.3 6h1.15m-0-4.5h1.15m3.9 2.8h1.15m-6 4.5h1.15m.7-10.3h1.15m-1.6 5.8h1.15m-3.1 4.2h1.15m2.9-1.3h1.15m1.3-3.9h1.15m-5.6 1.5h1.15m-1.8 5.5h1.15m-3.1-11.3h1.15m4.7 4.7h1.15m-9.2 3.8h1.15m7.8-6.5h1.15m-9.1 6.8h1.15m6.6-0h1.15m-5.3 .3h1.15m7-.5h1.15m-5.2 1.7h1.15m-1.8-4.5h1.15m-1.7 3.9h1.15m-1.3-1.2h1.15m-4-3.1h1.15m-5.6 4h1.15m6.3-7.9h1.15m-.7 1h1.15m-1 11h1.15m-2.7-10.8h1.15m-3.5 4h1.15m-1.1 1.6h1.15m-7.1 2.9h1.15m5.9-5.8h1.15m4.6 4.1h1.15m-13.7-9.6h1.15m9.7 4h1.15m-8.5 4.8h1.15m2-1.7h1.15m-4-3.5h1.15m1.4 3h1.15m3.8-7.7h1.15m-8.6 3.5h1.15m2.5 0h1.15m-1.3 7.5h1.15m-.9 .4h1.15m-1.8-12.2h1.15m-1.2 8.5h1.15m-3.6-1.8h1.15m6.6 2.5h1.15m-10.7-7.1h1.15m5.9 7.6h1.15m-8.7-3.2h1.15m4.1 4.8h1.15m1.8 5.5h1.15m-7.2-16.8h1.15m1.2 11.4h1.15m-5.3-8.4h1.15m4.4 4.4h1.15m3.1-2.1h1.15m4.4 5.6h1.15m-8.2-8.9h1.15m-2.9 12.8h1.15m-4.2-.1h1.15m3.2-2.3h1.15m-2.6-.8h1.15m-10.1-4.8h1.15m4.1 .9h1.15m-1-5.5h1.15m2.3 6.4h1.15m-2.9 2.6h1.15m-2.6-.1h1.15m3.5-7.4h1.15m-.9 2.5h1.15m-3.1-.5h1.15m2.8 3.6h1.15m-17.4-5.9h1.15m4.5 2.7h1.15m6.8 1.5h1.15m-11.1-9h1.15m6 7.5h1.15m2.2 3.5h1.15m-3.5 3.4h1.15m-.7-2.8h1.15m-4.5-1.3h1.15m7.8-6.2h1.15m-13.3 2.7h1.15m8.6 2.1h1.15" stroke-width="1.15" fill="none"/></g>
</defs>
<rect x="250.4" y="128.3" width="147" height="135.4" fill="#fff"/>
<rect x="413.5" y="134.3" width="133.2" height="123.8" fill="#fff"/>
<use href="#p0" stroke="#00ffff" fill="#00ffff" transform="translate(266.4 164.4) rotate(-13.28)"/>
<use href="#p1" stroke="#0000ff" fill="#0000ff" transform="translate(296.05 157.4) rotate(76.72)"/>
<use href="#p2" stroke="#00ffff" fill="#00ffff" transform="translate(325.7 150.4) rotate(166.72)"/>
<use href="#p3" stroke="#0000ff" fill="#0000ff" transform="translate(355.35 143.4) rotate(256.72)"/>
<use href="#p4" stroke="#000000" fill="#000000" transform="translate(273.85 191.25) rotate(-13.28)"/>
<use href="#p5" stroke="#00ff00" fill="#00ff00" transform="translate(303.5 184.25) rotate(76.72)"/>
<use href="#p6" stroke="#000000" fill="#000000" transform="translate(333.15 177.25) rotate(166.72)"/>
<use href="#p7" stroke="#00ff00" fill="#00ff00" transform="translate(362.8 170.25) rotate(256.72)"/>
<use href="#p0" stroke="#00ffff" fill="#00ffff" transform="translate(281.3 218.1) rotate(76.72)"/>
<use href="#p1" stroke="#0000ff" fill="#0000ff" transform="translate(310.95 211.1) rotate(166.72)"/>
<use href="#p2" stroke="#00ffff" fill="#00ffff" transform="translate(340.6 204.1) rotate(256.72)"/>
<use href="#p3" stroke="#0000ff" fill="#0000ff" transform="translate(370.25 197.1) rotate(346.72)"/>
<use href="#p4" stroke="#000000" fill="#000000" transform="translate(288.75 244.95) rotate(76.72)"/>
<use href="#p5" stroke="#00ff00" fill="#00ff00" transform="translate(318.4 237.95) rotate(166.72)"/>
<use href="#p6" stroke="#000000" fill="#000000" transform="translate(348.05 230.95) rotate(256.72)"/>
<use href="#p7" stroke="#00ff00" fill="#00ff00" transform="translate(377.7 223.95) rotate(346.72)"/>
<use href="#p3" stroke="#00ffff" fill="#00ffff" transform="translate(431.4 153.2) rotate(0)"/>
<use href="#p4" stroke="#0000ff" fill="#0000ff" transform="translate(463 153.2) rotate(90)"/>
<use href="#p5" stroke="#00ffff" fill="#00ffff" transform="translate(494.4 153.2) rotate(180)"/>
<use href="#p6" stroke="#0000ff" fill="#0000ff" transform="translate(525.4 153.2) rotate(270)"/>
<use href="#p7" stroke="#000000" fill="#000000" transform="translate(431.4 181.8) rotate(0)"/>
<use href="#p0" stroke="#00ff00" fill="#00ff00" transform="translate(463 181.8) rotate(180)"/>
<use href="#p1" stroke="#000000" fill="#000000" transform="translate(494.4 181.8) rotate(270)"/>
<use href="#p2" stroke="#00ff00" fill="#00ff00" transform="translate(525.4 181.8) rotate(360)"/>
<use href="#p3" stroke="#00ffff" fill="#00ffff" transform="translate(431.4 209.9) rotate(90)"/>
<use href="#p4" stroke="#0000ff" fill="#0000ff" transform="translate(463 209.9) rotate(180)"/>
<use href="#p5" stroke="#00ffff" fill="#00ffff" transform="translate(494.4 209.9) rotate(270)"/>
<use href="#p6" stroke="#0000ff" fill="#0000ff" transform="translate(525.4 209.9) rotate(360)"/>
<use href="#p7" stroke="#000000" fill="#000000" transform="translate(431.4 239.6) rotate(90)"/>
<use href="#p0" stroke="#00ff00" fill="#00ff00" transform="translate(463 239.6) rotate(270)"/>
<use href="#p1" stroke="#000000" fill="#000000" transform="translate(494.4 239.6) rotate(360)"/>
<use href="#p2" stroke="#00ff00" fill="#00ff00" transform="translate(525.4 239.6) rotate(450)"/>
<path d="M84.4 179.3C84.4 179.3 177.45 147.59 218.34 132.1C259.23 116.61 311.39 89.65 352.28 77.8C393.17 65.95 445.33 51.93 486.22 54.45C527.11 56.97 579.27 80.31 620.16 94.3C661.05 108.29 754.1 146.1 754.1 146.1" fill="none" stroke="#0000ff" stroke-width="2.59"/>
<circle cx="84.4" cy="179.3" r="6.48" fill="#fff" stroke="#0000ff" stroke-width="2.59"/>
<circle cx="218.34" cy="132.1" r="6.48" fill="#fff" stroke="#0000ff" stroke-width="2.59"/>
<circle cx="352.28" cy="77.8" r="6.48" fill="#fff" stroke="#0000ff" stroke-width="2.59"/>
<circle cx="486.22" cy="54.45" r="6.48" fill="#0000ff" stroke="#0000ff" stroke-width="2.59"/>
<circle cx="620.16" cy="94.3" r="6.48" fill="#fff" stroke="#0000ff" stroke-width="2.59"/>
<circle cx="754.1" cy="146.1" r="6.48" fill="#fff" stroke="#0000ff" stroke-width="2.59"/>
<path d="M84.4 178.1C84.4 178.1 177.45 148.24 218.34 136.4C259.23 124.56 311.39 107.99 352.28 100.5C393.17 93.01 445.33 83.18 486.22 87.3C527.11 91.42 579.27 114.5 620.16 127.5C661.05 140.5 754.1 172.5 754.1 172.5" fill="none" stroke="#ff0000" stroke-width="2.59"/>
<path d="M84.4 171.62L90.01 181.34L78.79 181.34Z" fill="#fff" stroke="#ff0000" stroke-width="2.59" stroke-linejoin="miter"/>
<path d="M218.34 129.92L223.95 139.64L212.73 139.64Z" fill="#fff" stroke="#ff0000" stroke-width="2.59" stroke-linejoin="miter"/>
<path d="M352.28 94.02L357.89 103.74L346.67 103.74Z" fill="#fff" stroke="#ff0000" stroke-width="2.59" stroke-linejoin="miter"/>
<path d="M486.22 80.82L491.83 90.54L480.61 90.54Z" fill="#ff0000" stroke="#ff0000" stroke-width="2.59" stroke-linejoin="miter"/>
<path d="M620.16 121.02L625.77 130.74L614.55 130.74Z" fill="#fff" stroke="#ff0000" stroke-width="2.59" stroke-linejoin="miter"/>
<path d="M754.1 166.02L759.71 175.74L748.49 175.74Z" fill="#fff" stroke="#ff0000" stroke-width="2.59" stroke-linejoin="miter"/>
<path d="M84.4 384.5C84.4 384.5 177.45 370.87 218.34 361.8C259.23 352.73 311.39 335.65 352.28 325.1C393.17 314.55 445.33 288.62 486.22 292.7C527.11 296.78 579.27 335.65 620.16 351.8C661.05 367.95 754.1 398.5 754.1 398.5" fill="none" stroke="#0000ff" stroke-width="2.59" stroke-dasharray="9.72 9.72" stroke-dashoffset="7.2"/>
<circle cx="84.4" cy="384.5" r="6.48" fill="#fff" stroke="#0000ff" stroke-width="2.59"/>
<circle cx="218.34" cy="361.8" r="6.48" fill="#fff" stroke="#0000ff" stroke-width="2.59"/>
<circle cx="352.28" cy="325.1" r="6.48" fill="#fff" stroke="#0000ff" stroke-width="2.59"/>
<circle cx="486.22" cy="292.7" r="6.48" fill="#0000ff" stroke="#0000ff" stroke-width="2.59"/>
<circle cx="620.16" cy="351.8" r="6.48" fill="#fff" stroke="#0000ff" stroke-width="2.59"/>
<circle cx="754.1" cy="398.5" r="6.48" fill="#fff" stroke="#0000ff" stroke-width="2.59"/>
<path d="M84.4 385.1C84.4 385.1 177.45 372.5 218.34 364.3C259.23 356.1 311.39 341.21 352.28 331.4C393.17 321.59 445.33 295.96 486.22 300C527.11 304.04 579.27 342.26 620.16 357.9C661.05 373.54 754.1 402.45 754.1 402.45" fill="none" stroke="#ff0000" stroke-width="2.59" stroke-dasharray="9.72 9.72" stroke-dashoffset="6"/>
<path d="M84.4 378.62L90.01 388.34L78.79 388.34Z" fill="#fff" stroke="#ff0000" stroke-width="2.59" stroke-linejoin="miter"/>
<path d="M218.34 357.82L223.95 367.54L212.73 367.54Z" fill="#fff" stroke="#ff0000" stroke-width="2.59" stroke-linejoin="miter"/>
<path d="M352.28 324.92L357.89 334.64L346.67 334.64Z" fill="#fff" stroke="#ff0000" stroke-width="2.59" stroke-linejoin="miter"/>
<path d="M486.22 293.52L491.83 303.24L480.61 303.24Z" fill="#ff0000" stroke="#ff0000" stroke-width="2.59" stroke-linejoin="miter"/>
<path d="M620.16 351.42L625.77 361.14L614.55 361.14Z" fill="#fff" stroke="#ff0000" stroke-width="2.59" stroke-linejoin="miter"/>
<path d="M754.1 395.97L759.71 405.69L748.49 405.69Z" fill="#fff" stroke="#ff0000" stroke-width="2.59" stroke-linejoin="miter"/>
<path d="M344.3 132.4L475.5 53.7" stroke="#000" stroke-width="1.45" fill="none" stroke-dasharray="9.6 10.8"/>
<path d="M473.44 61.2C472.7 59.3 474.31 54.81 475 54C473.96 54.23 469.24 53.54 467.91 51.98" fill="none" stroke="#000" stroke-width="1.17" stroke-linecap="round" stroke-linejoin="round"/>
<path d="M458.3 133.6L477.2 85.5" stroke="#000" stroke-width="1.45" fill="none" stroke-dasharray="9.6 10.8"/>
<path d="M480.15 92.7C478.39 91.65 476.93 87.1 476.99 86.04C476.31 86.86 472.14 89.19 470.14 88.77" fill="none" stroke="#000" stroke-width="1.17" stroke-linecap="round" stroke-linejoin="round"/>
<path d="M493.1 56V84.2" stroke="#000" stroke-width="2.59" fill="none"/>
<path d="M499.84 61.95C497.31 61.53 493.52 56.9 493.1 55.64C492.68 56.9 488.89 61.53 486.36 61.95" fill="none" stroke="#000" stroke-width="2.07" stroke-linecap="round" stroke-linejoin="round"/>
<path d="M486.36 78.25C488.89 78.67 492.68 83.3 493.1 84.56C493.52 83.3 497.31 78.67 499.84 78.25" fill="none" stroke="#000" stroke-width="2.07" stroke-linecap="round" stroke-linejoin="round"/>
<rect x="105.0" y="412.2" width="467.2" height="79.3" fill="#fff" stroke="#000" stroke-width="1.3"/>
<path d="M116 435.4H171.6" stroke="#0000ff" stroke-width="2.59" fill="none"/>
<circle cx="143.8" cy="435.4" r="6.48" fill="#fff" stroke="#0000ff" stroke-width="2.59"/>
<path d="M116 468.7H171.6" stroke="#0000ff" stroke-width="2.59" fill="none" stroke-dasharray="9.72 9.72"/>
<circle cx="143.8" cy="468.7" r="6.48" fill="#fff" stroke="#0000ff" stroke-width="2.59"/>
<path d="M339.9 435.4H395.4" stroke="#ff0000" stroke-width="2.59" fill="none"/>
<path d="M367.6 428.92L373.21 438.64L361.99 438.64Z" fill="#fff" stroke="#ff0000" stroke-width="2.59" stroke-linejoin="miter"/>
<path d="M339.9 468.7H395.4" stroke="#ff0000" stroke-width="2.59" fill="none" stroke-dasharray="9.72 9.72"/>
<path d="M367.6 462.22L373.21 471.94L361.99 471.94Z" fill="#fff" stroke="#ff0000" stroke-width="2.59" stroke-linejoin="miter"/>
<text x="179" y="440.6" font-size="22.4" text-anchor="start">PW</text>
<text transform="translate(222 437.9) scale(1.18 1)" font-size="17" text-anchor="start">@</text>
<text x="250" y="440.6" font-size="22.4" text-anchor="start">800</text>
<text x="291.6" y="440.6" font-size="22.4" text-anchor="start">km</text>
<text x="179" y="473.6" font-size="22.4" text-anchor="start">PW</text>
<text transform="translate(222 470.9) scale(1.18 1)" font-size="17" text-anchor="start">@</text>
<text x="249.8" y="473.6" font-size="22.4" text-anchor="start">1600</text>
<text x="302.8" y="473.6" font-size="22.4" text-anchor="start">km</text>
<text x="403.6" y="440.6" font-size="22.4" text-anchor="start">w/o</text>
<text transform="translate(445.9 437.9) scale(1.18 1)" font-size="17" text-anchor="start">@</text>
<text x="473.2" y="440.6" font-size="22.4" text-anchor="start">800</text>
<text x="515.3" y="440.6" font-size="22.4" text-anchor="start">km</text>
<text x="403.6" y="473.6" font-size="22.4" text-anchor="start">w/o</text>
<text transform="translate(445.9 470.9) scale(1.18 1)" font-size="17" text-anchor="start">@</text>
<text x="472.9" y="473.6" font-size="22.4" text-anchor="start">1600</text>
<text x="526" y="473.6" font-size="22.4" text-anchor="start">km</text>
<text transform="translate(72.8 516.3) scale(1.13 1)" font-size="24.5" text-anchor="end">7</text>
<text transform="translate(72.8 428.2) scale(1.13 1)" font-size="24.5" text-anchor="end">8</text>
<text transform="translate(72.8 340.1) scale(1.13 1)" font-size="24.5" text-anchor="end">9</text>
<text transform="translate(72.8 252) scale(1.13 1)" font-size="24.5" text-anchor="end">10</text>
<text transform="translate(72.8 163.9) scale(1.13 1)" font-size="24.5" text-anchor="end">11</text>
<text transform="translate(72.8 75.85) scale(1.13 1)" font-size="24.5" text-anchor="end">12</text>
<path d="M69.1 529.5h16.5" stroke="#000" stroke-width="1"/>
<text transform="translate(94.7 536.4) scale(1.13 1)" font-size="24.5" text-anchor="middle">3</text>
<path d="M203.04 529.5h16.5" stroke="#000" stroke-width="1"/>
<text transform="translate(228.64 536.4) scale(1.13 1)" font-size="24.5" text-anchor="middle">2</text>
<path d="M336.98 529.5h16.5" stroke="#000" stroke-width="1"/>
<text transform="translate(362.58 536.4) scale(1.13 1)" font-size="24.5" text-anchor="middle">1</text>
<text transform="translate(486.42 536.4) scale(1.13 1)" font-size="24.5" text-anchor="middle">0</text>
<text transform="translate(620.36 536.4) scale(1.13 1)" font-size="24.5" text-anchor="middle">1</text>
<text transform="translate(754.3 536.4) scale(1.13 1)" font-size="24.5" text-anchor="middle">2</text>
<text x="317.8" y="578.8" font-size="25.5" text-anchor="start">Input</text>
<text x="381.3" y="578.8" font-size="25.5" text-anchor="start">power</text>
<text transform="translate(452.2 578.8) scale(1.03 1)" font-size="25.5" text-anchor="start">(dBm)</text>
<g transform="translate(28.7 0) rotate(-90)">
<g transform="translate(-326.5 0)">
<g transform="translate(9.5 -9.3) skewX(-13)"><path fill-rule="evenodd" d="M-9.3 0A9.3 9.65 0 1 0 9.3 0A9.3 9.65 0 1 0 -9.3 0ZM-6.5 .3A6.5 8.7 0 1 0 6.5 -.3A6.5 8.7 0 1 0 -6.5 .3Z"/></g>
<path d="M6.3 -3.4C6.6 -5 9 -5.2 9.6 -3.2C10.2 -1 10.6 1.2 12 2.4C13.6 3.6 15.4 2.2 16.3 -.6C16.2 3 14.2 5.9 11.9 5.4C9.3 4.8 9.4 .6 8.6 -2.2C8.2 -3.6 6.9 -3.9 6.3 -3.4Z"/>
</g>
<text transform="translate(-298.6 0) scale(1.04 1)" font-size="25.5">factor</text>
<text x="-228.6" y="0" font-size="25.5">(dB)</text>
</g>
<text transform="translate(500 36.7) scale(1.13 1)" font-size="24.5" text-anchor="start">0.4</text>
<text transform="translate(543.6 36.7) scale(.95 1)" font-size="24.3" text-anchor="start">dB</text>
</svg></body></html>
